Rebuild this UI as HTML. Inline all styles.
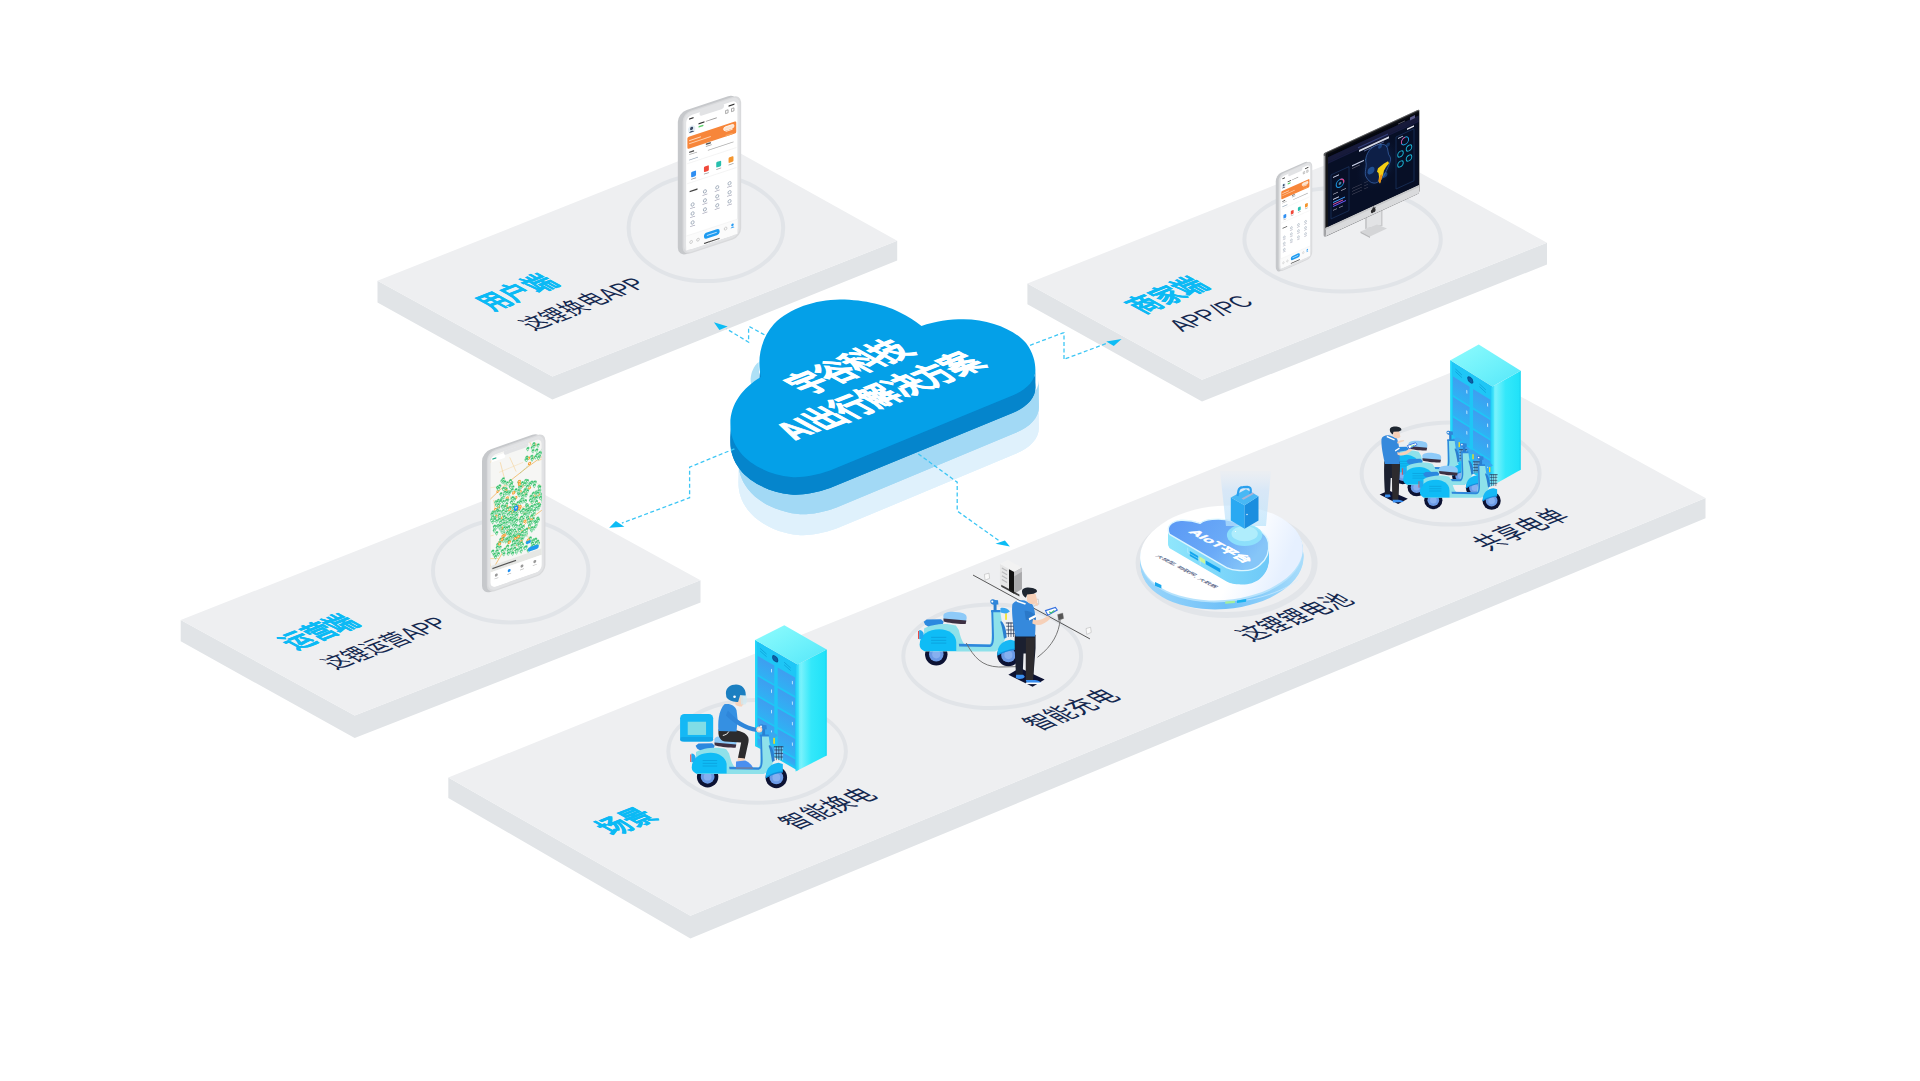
<!DOCTYPE html>
<html lang="zh-CN">
<head>
<meta charset="utf-8">
<style>
html,body{margin:0;padding:0;background:#fff;width:1920px;height:1081px;overflow:hidden;}
svg{display:block;}
text{font-family:"Liberation Sans",sans-serif;}
</style>
</head>
<body>
<svg width="1920" height="1081" viewBox="0 0 1920 1081">
<defs>
<path id="cloud" d="M730.4,424.6 C730,405 742,388 761,377 C757,360 760,340 774,324 C790,308 815,300 840,299.6 C865,299.6 888,306 900,312.5 C908,316 915,321 921.5,326 C935,321 950,319.2 963.6,319.2 C990,319.2 1015,330 1026,343 C1033,352 1035.4,362 1035.4,370 C1035.4,381 1026,390 1012.5,395.6 L830,470.6 C815,476 800,478 791,477 C770,475 750,465 740,452 C733,443 730.4,434 730.4,424.6 Z"/>
<g id="phoneBody">
<rect x="-8.5" y="-6.5" width="60" height="144" rx="9" fill="#c6c8cb"/>
<rect x="-3.6" y="-4.6" width="59.4" height="142.8" rx="8.5" fill="#d9dadc"/>
<rect x="-2.2" y="-3.2" width="56.4" height="140" rx="7.5" fill="#e2e3e5"/>
</g>
<g id="appScreen">
<rect x="0" y="0" width="52" height="134" rx="6" fill="#fff"/>
<rect x="13.5" y="-1" width="25" height="5.2" rx="2.6" fill="#e2e3e5"/>
<rect x="3" y="2.8" width="4.5" height="1.2" fill="#333"/>
<rect x="43" y="2.8" width="6" height="1.2" fill="#333"/>
<rect x="40" y="7" width="2.5" height="3" fill="none" stroke="#666" stroke-width="0.5"/>
<rect x="46" y="7" width="2.5" height="3" fill="none" stroke="#666" stroke-width="0.5"/>
<circle cx="5.5" cy="14.5" r="3.8" fill="#e3eef6"/>
<circle cx="5.5" cy="13.6" r="1.6" fill="#3b4a66"/>
<path d="M2.6,17.5 Q5.5,14.8 8.4,17.5 Z" fill="#3b4a66"/>
<rect x="12.5" y="10.6" width="6" height="1.4" fill="#333"/>
<rect x="20" y="10.8" width="11" height="0.9" fill="#999"/>
<rect x="12.5" y="13.6" width="5" height="1.6" rx="0.5" fill="#5ad06a"/>
<rect x="1.2" y="21" width="49.6" height="12" rx="1.4" fill="#f7863a"/>
<rect x="38" y="23.2" width="10.5" height="3.6" rx="1.8" fill="#fbe3cf" stroke="#fff" stroke-width="0.7"/>
<rect x="3" y="24.5" width="12" height="1.1" fill="#ffd9bd"/>
<rect x="3" y="27.6" width="22" height="0.9" fill="#ffd0ad"/>
<rect x="40" y="27.4" width="7" height="1.1" fill="#ffe3cc"/>
<rect x="3" y="36" width="5" height="1.4" fill="#555"/>
<rect x="3" y="38.6" width="8" height="0.8" fill="#aaa"/>
<rect x="20" y="33.5" width="5" height="1.4" fill="#555"/>
<rect x="20" y="36" width="6" height="0.8" fill="#aaa"/>
<rect x="40" y="31.5" width="7" height="1.3" fill="#f7a35c"/>
<rect x="22" y="40.5" width="26" height="0.8" fill="#aaa"/>
<rect x="3" y="44" width="9" height="0.9" fill="#9ab"/>
<line x1="1" y1="47.5" x2="51" y2="47.5" stroke="#eee" stroke-width="0.6"/>
<rect x="43" y="55" width="5" height="5.5" rx="1" fill="#f5962e"/>
<rect x="30.5" y="55.5" width="5" height="5.5" rx="1" fill="#27bfae"/>
<rect x="18" y="56" width="5" height="5.5" rx="1" fill="#f0483a"/>
<rect x="5" y="57" width="5" height="5.5" rx="1" fill="#2f8ff2"/>
<rect x="43" y="62" width="5" height="0.8" fill="#999"/>
<rect x="30.5" y="62.5" width="5" height="0.8" fill="#999"/>
<rect x="18" y="63" width="5" height="0.8" fill="#999"/>
<rect x="5" y="64" width="5" height="0.8" fill="#999"/>
<line x1="1" y1="67.5" x2="51" y2="67.5" stroke="#eee" stroke-width="0.6"/>
<rect x="3.5" y="75.5" width="8" height="1.3" fill="#444"/>
<circle cx="19" cy="81" r="1.6" fill="none" stroke="#7b8ba0" stroke-width="0.6"/><rect x="16.5" y="84" width="5" height="0.7" fill="#aab"/>
<circle cx="31.5" cy="81" r="1.6" fill="none" stroke="#7b8ba0" stroke-width="0.6"/><rect x="29.0" y="84" width="5" height="0.7" fill="#aab"/>
<circle cx="44" cy="81" r="1.6" fill="none" stroke="#7b8ba0" stroke-width="0.6"/><rect x="41.5" y="84" width="5" height="0.7" fill="#aab"/>
<circle cx="6.5" cy="90" r="1.6" fill="none" stroke="#7b8ba0" stroke-width="0.6"/><rect x="4.0" y="93.0" width="5" height="0.7" fill="#aab"/>
<circle cx="19" cy="90" r="1.6" fill="none" stroke="#7b8ba0" stroke-width="0.6"/><rect x="16.5" y="93.0" width="5" height="0.7" fill="#aab"/>
<circle cx="31.5" cy="90" r="1.6" fill="none" stroke="#7b8ba0" stroke-width="0.6"/><rect x="29.0" y="93.0" width="5" height="0.7" fill="#aab"/>
<circle cx="44" cy="90" r="1.6" fill="none" stroke="#7b8ba0" stroke-width="0.6"/><rect x="41.5" y="93.0" width="5" height="0.7" fill="#aab"/>
<circle cx="6.5" cy="99" r="1.6" fill="none" stroke="#7b8ba0" stroke-width="0.6"/><rect x="4.0" y="102.0" width="5" height="0.7" fill="#aab"/>
<circle cx="19" cy="99" r="1.6" fill="none" stroke="#7b8ba0" stroke-width="0.6"/><rect x="16.5" y="102.0" width="5" height="0.7" fill="#aab"/>
<circle cx="31.5" cy="99" r="1.6" fill="none" stroke="#7b8ba0" stroke-width="0.6"/><rect x="29.0" y="102.0" width="5" height="0.7" fill="#aab"/>
<circle cx="44" cy="99" r="1.6" fill="none" stroke="#7b8ba0" stroke-width="0.6"/><rect x="41.5" y="102.0" width="5" height="0.7" fill="#aab"/>
<circle cx="6.5" cy="108" r="1.6" fill="none" stroke="#7b8ba0" stroke-width="0.6"/><rect x="4.0" y="111.0" width="5" height="0.7" fill="#aab"/>
<rect x="0" y="119.5" width="52" height="14.5" fill="#fbfbfb"/>
<line x1="0" y1="119.5" x2="52" y2="119.5" stroke="#eee" stroke-width="0.5"/>
<rect x="18" y="122.8" width="16" height="6" rx="3" fill="#1e9bf0"/>
<rect x="21" y="125.3" width="10" height="1" fill="#bfe3ff"/>
<circle cx="5" cy="127" r="1.4" fill="none" stroke="#aaa" stroke-width="0.5"/>
<circle cx="12" cy="127" r="1.4" fill="none" stroke="#aaa" stroke-width="0.5"/>
<circle cx="40" cy="125" r="1.4" fill="none" stroke="#aaa" stroke-width="0.5"/>
<circle cx="47" cy="123.5" r="1.3" fill="#2a9df4"/>
<path d="M45,126.5 Q47,124 49,126.5 Z" fill="#2a9df4"/>
<rect x="18" y="132.2" width="16" height="1.1" rx="0.5" fill="#222" stroke="#fff" stroke-width="0.3" stroke-dasharray="1.6 0.6"/>
</g>
<g id="mapScreen">
<clipPath id="scrClip"><rect x="0" y="0" width="52" height="134" rx="6"/></clipPath>
<g clip-path="url(#scrClip)">
<rect x="0" y="0" width="52" height="134" fill="#f6f6f4"/>
<line x1="23.0" y1="64.4" x2="44.3" y2="62.3" stroke="#f6d49c" stroke-width="0.8"/>
<line x1="48.0" y1="21.8" x2="63.2" y2="20.4" stroke="#f6d49c" stroke-width="0.8"/>
<line x1="44.2" y1="10.8" x2="34.3" y2="-13.7" stroke="#f6d49c" stroke-width="0.8"/>
<line x1="34.3" y1="68.5" x2="29.1" y2="65.7" stroke="#f6d49c" stroke-width="0.8"/>
<line x1="33.2" y1="18.1" x2="8.9" y2="19.8" stroke="#f6d49c" stroke-width="0.4"/>
<line x1="-2.8" y1="101.1" x2="2.2" y2="117.8" stroke="#f6d49c" stroke-width="0.6"/>
<line x1="22.3" y1="96.9" x2="23.3" y2="105.3" stroke="#f6d49c" stroke-width="0.6"/>
<line x1="-4.7" y1="9.8" x2="3.0" y2="4.2" stroke="#f6d49c" stroke-width="0.8"/>
<line x1="56.7" y1="96.6" x2="67.1" y2="85.5" stroke="#f6d49c" stroke-width="0.4"/>
<line x1="26.8" y1="3.4" x2="30.0" y2="-20.1" stroke="#f6d49c" stroke-width="0.4"/>
<line x1="47.5" y1="44.4" x2="70.4" y2="65.3" stroke="#f6d49c" stroke-width="0.4"/>
<line x1="8.2" y1="106.6" x2="-14.1" y2="99.1" stroke="#f6d49c" stroke-width="0.8"/>
<line x1="19.6" y1="8.4" x2="26.1" y2="25.1" stroke="#f6d49c" stroke-width="0.6"/>
<line x1="15.9" y1="35.8" x2="-8.4" y2="30.4" stroke="#f6d49c" stroke-width="0.4"/>
<line x1="3.3" y1="81.3" x2="-21.1" y2="79.2" stroke="#f6d49c" stroke-width="0.6"/>
<line x1="6.0" y1="64.3" x2="3.4" y2="45.8" stroke="#f6d49c" stroke-width="0.8"/>
<path d="M-2,45 Q20,30 55,18" stroke="#f1b968" stroke-width="0.8" fill="none"/>
<path d="M5,112 Q25,80 55,72" stroke="#f1b968" stroke-width="0.8" fill="none"/>
<path d="M10,10 Q20,60 45,110" stroke="#f6cf92" stroke-width="0.6" fill="none"/>
<path d="M30,28 Q45,20 55,8" stroke="#6ccf8f" stroke-width="0.4" stroke-dasharray="1 0.6" fill="none"/>
<circle cx="30.1" cy="46.7" r="1.6" fill="#f59b2c"/><circle cx="30.1" cy="46.7" r="0.7" fill="#fde3c4"/>
<path d="M15.4,80.4 l-1.3,-1.9 a1.65,1.65 0 1 1 2.6,0 z" fill="#34c06a" stroke="#f2fbf5" stroke-width="0.3"/><circle cx="15.4" cy="78.4" r="0.8" fill="#dff6e7"/>
<path d="M28.6,67.8 l-1.3,-1.9 a1.65,1.65 0 1 1 2.6,0 z" fill="#34c06a" stroke="#f2fbf5" stroke-width="0.3"/><circle cx="28.6" cy="65.8" r="0.8" fill="#dff6e7"/>
<path d="M45.5,45.5 l-1.3,-1.9 a1.65,1.65 0 1 1 2.6,0 z" fill="#34c06a" stroke="#f2fbf5" stroke-width="0.3"/><circle cx="45.5" cy="43.5" r="0.8" fill="#dff6e7"/>
<path d="M5.5,51.3 l-1.3,-1.9 a1.65,1.65 0 1 1 2.6,0 z" fill="#34c06a" stroke="#f2fbf5" stroke-width="0.3"/><circle cx="5.5" cy="49.3" r="0.8" fill="#dff6e7"/>
<path d="M39.6,69.4 l-1.3,-1.9 a1.65,1.65 0 1 1 2.6,0 z" fill="#34c06a" stroke="#f2fbf5" stroke-width="0.3"/><circle cx="39.6" cy="67.4" r="0.8" fill="#dff6e7"/>
<circle cx="48.9" cy="65.4" r="1.6" fill="#f59b2c"/><circle cx="48.9" cy="65.4" r="0.7" fill="#fde3c4"/>
<path d="M23.1,64.9 l-1.3,-1.9 a1.65,1.65 0 1 1 2.6,0 z" fill="#34c06a" stroke="#f2fbf5" stroke-width="0.3"/><circle cx="23.1" cy="62.9" r="0.8" fill="#dff6e7"/>
<path d="M38.9,83.7 l-1.3,-1.9 a1.65,1.65 0 1 1 2.6,0 z" fill="#34c06a" stroke="#f2fbf5" stroke-width="0.3"/><circle cx="38.9" cy="81.7" r="0.8" fill="#dff6e7"/>
<path d="M49.1,69.2 l-1.3,-1.9 a1.65,1.65 0 1 1 2.6,0 z" fill="#34c06a" stroke="#f2fbf5" stroke-width="0.3"/><circle cx="49.1" cy="67.2" r="0.8" fill="#dff6e7"/>
<path d="M36.1,51.5 l-1.3,-1.9 a1.65,1.65 0 1 1 2.6,0 z" fill="#34c06a" stroke="#f2fbf5" stroke-width="0.3"/><circle cx="36.1" cy="49.5" r="0.8" fill="#dff6e7"/>
<path d="M39.0,74.0 l-1.3,-1.9 a1.65,1.65 0 1 1 2.6,0 z" fill="#34c06a" stroke="#f2fbf5" stroke-width="0.3"/><circle cx="39.0" cy="72.0" r="0.8" fill="#dff6e7"/>
<path d="M25.8,65.0 l-1.3,-1.9 a1.65,1.65 0 1 1 2.6,0 z" fill="#34c06a" stroke="#f2fbf5" stroke-width="0.3"/><circle cx="25.8" cy="63.0" r="0.8" fill="#dff6e7"/>
<path d="M13.6,85.2 l-1.3,-1.9 a1.65,1.65 0 1 1 2.6,0 z" fill="#34c06a" stroke="#f2fbf5" stroke-width="0.3"/><circle cx="13.6" cy="83.2" r="0.8" fill="#dff6e7"/>
<path d="M42.4,84.3 l-1.3,-1.9 a1.65,1.65 0 1 1 2.6,0 z" fill="#34c06a" stroke="#f2fbf5" stroke-width="0.3"/><circle cx="42.4" cy="82.3" r="0.8" fill="#dff6e7"/>
<path d="M32.9,58.2 l-1.3,-1.9 a1.65,1.65 0 1 1 2.6,0 z" fill="#34c06a" stroke="#f2fbf5" stroke-width="0.3"/><circle cx="32.9" cy="56.2" r="0.8" fill="#dff6e7"/>
<path d="M11.9,83.4 l-1.3,-1.9 a1.65,1.65 0 1 1 2.6,0 z" fill="#34c06a" stroke="#f2fbf5" stroke-width="0.3"/><circle cx="11.9" cy="81.4" r="0.8" fill="#dff6e7"/>
<path d="M23.2,81.1 l-1.3,-1.9 a1.65,1.65 0 1 1 2.6,0 z" fill="#34c06a" stroke="#f2fbf5" stroke-width="0.3"/><circle cx="23.2" cy="79.1" r="0.8" fill="#dff6e7"/>
<circle cx="10.3" cy="49.7" r="1.6" fill="#f59b2c"/><circle cx="10.3" cy="49.7" r="0.7" fill="#fde3c4"/>
<circle cx="39.6" cy="86.0" r="1.6" fill="#f59b2c"/><circle cx="39.6" cy="86.0" r="0.7" fill="#fde3c4"/>
<path d="M6.9,59.5 l-1.3,-1.9 a1.65,1.65 0 1 1 2.6,0 z" fill="#34c06a" stroke="#f2fbf5" stroke-width="0.3"/><circle cx="6.9" cy="57.5" r="0.8" fill="#dff6e7"/>
<path d="M13.7,81.3 l-1.3,-1.9 a1.65,1.65 0 1 1 2.6,0 z" fill="#34c06a" stroke="#f2fbf5" stroke-width="0.3"/><circle cx="13.7" cy="79.3" r="0.8" fill="#dff6e7"/>
<path d="M33.2,70.9 l-1.3,-1.9 a1.65,1.65 0 1 1 2.6,0 z" fill="#34c06a" stroke="#f2fbf5" stroke-width="0.3"/><circle cx="33.2" cy="68.9" r="0.8" fill="#dff6e7"/>
<path d="M43.0,81.4 l-1.3,-1.9 a1.65,1.65 0 1 1 2.6,0 z" fill="#34c06a" stroke="#f2fbf5" stroke-width="0.3"/><circle cx="43.0" cy="79.4" r="0.8" fill="#dff6e7"/>
<circle cx="27.2" cy="91.8" r="1.6" fill="#f59b2c"/><circle cx="27.2" cy="91.8" r="0.7" fill="#fde3c4"/>
<path d="M14.4,80.1 l-1.3,-1.9 a1.65,1.65 0 1 1 2.6,0 z" fill="#34c06a" stroke="#f2fbf5" stroke-width="0.3"/><circle cx="14.4" cy="78.1" r="0.8" fill="#dff6e7"/>
<path d="M43.6,56.0 l-1.3,-1.9 a1.65,1.65 0 1 1 2.6,0 z" fill="#34c06a" stroke="#f2fbf5" stroke-width="0.3"/><circle cx="43.6" cy="54.0" r="0.8" fill="#dff6e7"/>
<path d="M2.2,64.2 l-1.3,-1.9 a1.65,1.65 0 1 1 2.6,0 z" fill="#34c06a" stroke="#f2fbf5" stroke-width="0.3"/><circle cx="2.2" cy="62.2" r="0.8" fill="#dff6e7"/>
<path d="M37.5,66.3 l-1.3,-1.9 a1.65,1.65 0 1 1 2.6,0 z" fill="#34c06a" stroke="#f2fbf5" stroke-width="0.3"/><circle cx="37.5" cy="64.3" r="0.8" fill="#dff6e7"/>
<path d="M6.4,70.9 l-1.3,-1.9 a1.65,1.65 0 1 1 2.6,0 z" fill="#34c06a" stroke="#f2fbf5" stroke-width="0.3"/><circle cx="6.4" cy="68.9" r="0.8" fill="#dff6e7"/>
<path d="M22.5,62.4 l-1.3,-1.9 a1.65,1.65 0 1 1 2.6,0 z" fill="#34c06a" stroke="#f2fbf5" stroke-width="0.3"/><circle cx="22.5" cy="60.4" r="0.8" fill="#dff6e7"/>
<path d="M34.0,95.7 l-1.3,-1.9 a1.65,1.65 0 1 1 2.6,0 z" fill="#34c06a" stroke="#f2fbf5" stroke-width="0.3"/><circle cx="34.0" cy="93.7" r="0.8" fill="#dff6e7"/>
<path d="M28.0,59.9 l-1.3,-1.9 a1.65,1.65 0 1 1 2.6,0 z" fill="#34c06a" stroke="#f2fbf5" stroke-width="0.3"/><circle cx="28.0" cy="57.9" r="0.8" fill="#dff6e7"/>
<path d="M16.6,75.7 l-1.3,-1.9 a1.65,1.65 0 1 1 2.6,0 z" fill="#34c06a" stroke="#f2fbf5" stroke-width="0.3"/><circle cx="16.6" cy="73.7" r="0.8" fill="#dff6e7"/>
<path d="M41.7,72.4 l-1.3,-1.9 a1.65,1.65 0 1 1 2.6,0 z" fill="#34c06a" stroke="#f2fbf5" stroke-width="0.3"/><circle cx="41.7" cy="70.4" r="0.8" fill="#dff6e7"/>
<path d="M1.9,62.1 l-1.3,-1.9 a1.65,1.65 0 1 1 2.6,0 z" fill="#34c06a" stroke="#f2fbf5" stroke-width="0.3"/><circle cx="1.9" cy="60.1" r="0.8" fill="#dff6e7"/>
<path d="M36.4,73.9 l-1.3,-1.9 a1.65,1.65 0 1 1 2.6,0 z" fill="#34c06a" stroke="#f2fbf5" stroke-width="0.3"/><circle cx="36.4" cy="71.9" r="0.8" fill="#dff6e7"/>
<path d="M13.2,73.1 l-1.3,-1.9 a1.65,1.65 0 1 1 2.6,0 z" fill="#34c06a" stroke="#f2fbf5" stroke-width="0.3"/><circle cx="13.2" cy="71.1" r="0.8" fill="#dff6e7"/>
<path d="M25.9,46.3 l-1.3,-1.9 a1.65,1.65 0 1 1 2.6,0 z" fill="#34c06a" stroke="#f2fbf5" stroke-width="0.3"/><circle cx="25.9" cy="44.3" r="0.8" fill="#dff6e7"/>
<path d="M47.6,60.2 l-1.3,-1.9 a1.65,1.65 0 1 1 2.6,0 z" fill="#34c06a" stroke="#f2fbf5" stroke-width="0.3"/><circle cx="47.6" cy="58.2" r="0.8" fill="#dff6e7"/>
<circle cx="44.5" cy="56.5" r="1.6" fill="#f59b2c"/><circle cx="44.5" cy="56.5" r="0.7" fill="#fde3c4"/>
<path d="M18.6,80.9 l-1.3,-1.9 a1.65,1.65 0 1 1 2.6,0 z" fill="#34c06a" stroke="#f2fbf5" stroke-width="0.3"/><circle cx="18.6" cy="78.9" r="0.8" fill="#dff6e7"/>
<path d="M48.4,72.7 l-1.3,-1.9 a1.65,1.65 0 1 1 2.6,0 z" fill="#34c06a" stroke="#f2fbf5" stroke-width="0.3"/><circle cx="48.4" cy="70.7" r="0.8" fill="#dff6e7"/>
<path d="M34.2,71.3 l-1.3,-1.9 a1.65,1.65 0 1 1 2.6,0 z" fill="#34c06a" stroke="#f2fbf5" stroke-width="0.3"/><circle cx="34.2" cy="69.3" r="0.8" fill="#dff6e7"/>
<path d="M24.3,78.1 l-1.3,-1.9 a1.65,1.65 0 1 1 2.6,0 z" fill="#34c06a" stroke="#f2fbf5" stroke-width="0.3"/><circle cx="24.3" cy="76.1" r="0.8" fill="#dff6e7"/>
<path d="M44.3,76.7 l-1.3,-1.9 a1.65,1.65 0 1 1 2.6,0 z" fill="#34c06a" stroke="#f2fbf5" stroke-width="0.3"/><circle cx="44.3" cy="74.7" r="0.8" fill="#dff6e7"/>
<path d="M24.2,72.5 l-1.3,-1.9 a1.65,1.65 0 1 1 2.6,0 z" fill="#34c06a" stroke="#f2fbf5" stroke-width="0.3"/><circle cx="24.2" cy="70.5" r="0.8" fill="#dff6e7"/>
<path d="M49.3,57.8 l-1.3,-1.9 a1.65,1.65 0 1 1 2.6,0 z" fill="#34c06a" stroke="#f2fbf5" stroke-width="0.3"/><circle cx="49.3" cy="55.8" r="0.8" fill="#dff6e7"/>
<path d="M46.2,89.2 l-1.3,-1.9 a1.65,1.65 0 1 1 2.6,0 z" fill="#34c06a" stroke="#f2fbf5" stroke-width="0.3"/><circle cx="46.2" cy="87.2" r="0.8" fill="#dff6e7"/>
<path d="M23.7,75.1 l-1.3,-1.9 a1.65,1.65 0 1 1 2.6,0 z" fill="#34c06a" stroke="#f2fbf5" stroke-width="0.3"/><circle cx="23.7" cy="73.1" r="0.8" fill="#dff6e7"/>
<path d="M20.6,69.2 l-1.3,-1.9 a1.65,1.65 0 1 1 2.6,0 z" fill="#34c06a" stroke="#f2fbf5" stroke-width="0.3"/><circle cx="20.6" cy="67.2" r="0.8" fill="#dff6e7"/>
<path d="M44.4,45.0 l-1.3,-1.9 a1.65,1.65 0 1 1 2.6,0 z" fill="#34c06a" stroke="#f2fbf5" stroke-width="0.3"/><circle cx="44.4" cy="43.0" r="0.8" fill="#dff6e7"/>
<path d="M46.7,71.8 l-1.3,-1.9 a1.65,1.65 0 1 1 2.6,0 z" fill="#34c06a" stroke="#f2fbf5" stroke-width="0.3"/><circle cx="46.7" cy="69.8" r="0.8" fill="#dff6e7"/>
<path d="M49.9,70.0 l-1.3,-1.9 a1.65,1.65 0 1 1 2.6,0 z" fill="#34c06a" stroke="#f2fbf5" stroke-width="0.3"/><circle cx="49.9" cy="68.0" r="0.8" fill="#dff6e7"/>
<path d="M25.8,70.1 l-1.3,-1.9 a1.65,1.65 0 1 1 2.6,0 z" fill="#34c06a" stroke="#f2fbf5" stroke-width="0.3"/><circle cx="25.8" cy="68.1" r="0.8" fill="#dff6e7"/>
<circle cx="35.3" cy="70.0" r="1.6" fill="#f59b2c"/><circle cx="35.3" cy="70.0" r="0.7" fill="#fde3c4"/>
<circle cx="38.2" cy="76.1" r="1.6" fill="#f59b2c"/><circle cx="38.2" cy="76.1" r="0.7" fill="#fde3c4"/>
<path d="M14.6,76.5 l-1.3,-1.9 a1.65,1.65 0 1 1 2.6,0 z" fill="#34c06a" stroke="#f2fbf5" stroke-width="0.3"/><circle cx="14.6" cy="74.5" r="0.8" fill="#dff6e7"/>
<circle cx="48.6" cy="56.0" r="1.6" fill="#f59b2c"/><circle cx="48.6" cy="56.0" r="0.7" fill="#fde3c4"/>
<path d="M10.3,73.2 l-1.3,-1.9 a1.65,1.65 0 1 1 2.6,0 z" fill="#34c06a" stroke="#f2fbf5" stroke-width="0.3"/><circle cx="10.3" cy="71.2" r="0.8" fill="#dff6e7"/>
<path d="M9.2,62.3 l-1.3,-1.9 a1.65,1.65 0 1 1 2.6,0 z" fill="#34c06a" stroke="#f2fbf5" stroke-width="0.3"/><circle cx="9.2" cy="60.3" r="0.8" fill="#dff6e7"/>
<path d="M13.0,66.3 l-1.3,-1.9 a1.65,1.65 0 1 1 2.6,0 z" fill="#34c06a" stroke="#f2fbf5" stroke-width="0.3"/><circle cx="13.0" cy="64.3" r="0.8" fill="#dff6e7"/>
<path d="M31.4,70.1 l-1.3,-1.9 a1.65,1.65 0 1 1 2.6,0 z" fill="#34c06a" stroke="#f2fbf5" stroke-width="0.3"/><circle cx="31.4" cy="68.1" r="0.8" fill="#dff6e7"/>
<path d="M36.7,65.1 l-1.3,-1.9 a1.65,1.65 0 1 1 2.6,0 z" fill="#34c06a" stroke="#f2fbf5" stroke-width="0.3"/><circle cx="36.7" cy="63.1" r="0.8" fill="#dff6e7"/>
<circle cx="32.1" cy="42.1" r="1.6" fill="#f59b2c"/><circle cx="32.1" cy="42.1" r="0.7" fill="#fde3c4"/>
<path d="M2.5,70.2 l-1.3,-1.9 a1.65,1.65 0 1 1 2.6,0 z" fill="#34c06a" stroke="#f2fbf5" stroke-width="0.3"/><circle cx="2.5" cy="68.2" r="0.8" fill="#dff6e7"/>
<path d="M21.1,76.2 l-1.3,-1.9 a1.65,1.65 0 1 1 2.6,0 z" fill="#34c06a" stroke="#f2fbf5" stroke-width="0.3"/><circle cx="21.1" cy="74.2" r="0.8" fill="#dff6e7"/>
<path d="M13.2,53.8 l-1.3,-1.9 a1.65,1.65 0 1 1 2.6,0 z" fill="#34c06a" stroke="#f2fbf5" stroke-width="0.3"/><circle cx="13.2" cy="51.8" r="0.8" fill="#dff6e7"/>
<path d="M28.4,50.2 l-1.3,-1.9 a1.65,1.65 0 1 1 2.6,0 z" fill="#34c06a" stroke="#f2fbf5" stroke-width="0.3"/><circle cx="28.4" cy="48.2" r="0.8" fill="#dff6e7"/>
<path d="M45.3,58.8 l-1.3,-1.9 a1.65,1.65 0 1 1 2.6,0 z" fill="#34c06a" stroke="#f2fbf5" stroke-width="0.3"/><circle cx="45.3" cy="56.8" r="0.8" fill="#dff6e7"/>
<path d="M28.9,86.9 l-1.3,-1.9 a1.65,1.65 0 1 1 2.6,0 z" fill="#34c06a" stroke="#f2fbf5" stroke-width="0.3"/><circle cx="28.9" cy="84.9" r="0.8" fill="#dff6e7"/>
<path d="M27.9,91.7 l-1.3,-1.9 a1.65,1.65 0 1 1 2.6,0 z" fill="#34c06a" stroke="#f2fbf5" stroke-width="0.3"/><circle cx="27.9" cy="89.7" r="0.8" fill="#dff6e7"/>
<path d="M35.8,43.2 l-1.3,-1.9 a1.65,1.65 0 1 1 2.6,0 z" fill="#34c06a" stroke="#f2fbf5" stroke-width="0.3"/><circle cx="35.8" cy="41.2" r="0.8" fill="#dff6e7"/>
<path d="M31.8,81.0 l-1.3,-1.9 a1.65,1.65 0 1 1 2.6,0 z" fill="#34c06a" stroke="#f2fbf5" stroke-width="0.3"/><circle cx="31.8" cy="79.0" r="0.8" fill="#dff6e7"/>
<path d="M32.9,96.1 l-1.3,-1.9 a1.65,1.65 0 1 1 2.6,0 z" fill="#34c06a" stroke="#f2fbf5" stroke-width="0.3"/><circle cx="32.9" cy="94.1" r="0.8" fill="#dff6e7"/>
<path d="M30.5,78.5 l-1.3,-1.9 a1.65,1.65 0 1 1 2.6,0 z" fill="#34c06a" stroke="#f2fbf5" stroke-width="0.3"/><circle cx="30.5" cy="76.5" r="0.8" fill="#dff6e7"/>
<path d="M12.9,90.7 l-1.3,-1.9 a1.65,1.65 0 1 1 2.6,0 z" fill="#34c06a" stroke="#f2fbf5" stroke-width="0.3"/><circle cx="12.9" cy="88.7" r="0.8" fill="#dff6e7"/>
<path d="M34.6,69.7 l-1.3,-1.9 a1.65,1.65 0 1 1 2.6,0 z" fill="#34c06a" stroke="#f2fbf5" stroke-width="0.3"/><circle cx="34.6" cy="67.7" r="0.8" fill="#dff6e7"/>
<path d="M52.3,64.5 l-1.3,-1.9 a1.65,1.65 0 1 1 2.6,0 z" fill="#34c06a" stroke="#f2fbf5" stroke-width="0.3"/><circle cx="52.3" cy="62.5" r="0.8" fill="#dff6e7"/>
<path d="M42.1,81.2 l-1.3,-1.9 a1.65,1.65 0 1 1 2.6,0 z" fill="#34c06a" stroke="#f2fbf5" stroke-width="0.3"/><circle cx="42.1" cy="79.2" r="0.8" fill="#dff6e7"/>
<path d="M50.0,55.5 l-1.3,-1.9 a1.65,1.65 0 1 1 2.6,0 z" fill="#34c06a" stroke="#f2fbf5" stroke-width="0.3"/><circle cx="50.0" cy="53.5" r="0.8" fill="#dff6e7"/>
<path d="M13.6,82.4 l-1.3,-1.9 a1.65,1.65 0 1 1 2.6,0 z" fill="#34c06a" stroke="#f2fbf5" stroke-width="0.3"/><circle cx="13.6" cy="80.4" r="0.8" fill="#dff6e7"/>
<path d="M17.3,45.4 l-1.3,-1.9 a1.65,1.65 0 1 1 2.6,0 z" fill="#34c06a" stroke="#f2fbf5" stroke-width="0.3"/><circle cx="17.3" cy="43.4" r="0.8" fill="#dff6e7"/>
<circle cx="39.6" cy="46.1" r="1.6" fill="#f59b2c"/><circle cx="39.6" cy="46.1" r="0.7" fill="#fde3c4"/>
<path d="M17.5,92.5 l-1.3,-1.9 a1.65,1.65 0 1 1 2.6,0 z" fill="#34c06a" stroke="#f2fbf5" stroke-width="0.3"/><circle cx="17.5" cy="90.5" r="0.8" fill="#dff6e7"/>
<path d="M24.3,90.8 l-1.3,-1.9 a1.65,1.65 0 1 1 2.6,0 z" fill="#34c06a" stroke="#f2fbf5" stroke-width="0.3"/><circle cx="24.3" cy="88.8" r="0.8" fill="#dff6e7"/>
<path d="M21.8,53.5 l-1.3,-1.9 a1.65,1.65 0 1 1 2.6,0 z" fill="#34c06a" stroke="#f2fbf5" stroke-width="0.3"/><circle cx="21.8" cy="51.5" r="0.8" fill="#dff6e7"/>
<circle cx="14.8" cy="85.2" r="1.6" fill="#f59b2c"/><circle cx="14.8" cy="85.2" r="0.7" fill="#fde3c4"/>
<path d="M8.1,58.4 l-1.3,-1.9 a1.65,1.65 0 1 1 2.6,0 z" fill="#34c06a" stroke="#f2fbf5" stroke-width="0.3"/><circle cx="8.1" cy="56.4" r="0.8" fill="#dff6e7"/>
<path d="M18.3,75.1 l-1.3,-1.9 a1.65,1.65 0 1 1 2.6,0 z" fill="#34c06a" stroke="#f2fbf5" stroke-width="0.3"/><circle cx="18.3" cy="73.1" r="0.8" fill="#dff6e7"/>
<path d="M29.7,52.4 l-1.3,-1.9 a1.65,1.65 0 1 1 2.6,0 z" fill="#34c06a" stroke="#f2fbf5" stroke-width="0.3"/><circle cx="29.7" cy="50.4" r="0.8" fill="#dff6e7"/>
<path d="M32.4,41.5 l-1.3,-1.9 a1.65,1.65 0 1 1 2.6,0 z" fill="#34c06a" stroke="#f2fbf5" stroke-width="0.3"/><circle cx="32.4" cy="39.5" r="0.8" fill="#dff6e7"/>
<path d="M37.1,66.8 l-1.3,-1.9 a1.65,1.65 0 1 1 2.6,0 z" fill="#34c06a" stroke="#f2fbf5" stroke-width="0.3"/><circle cx="37.1" cy="64.8" r="0.8" fill="#dff6e7"/>
<path d="M43.3,81.7 l-1.3,-1.9 a1.65,1.65 0 1 1 2.6,0 z" fill="#34c06a" stroke="#f2fbf5" stroke-width="0.3"/><circle cx="43.3" cy="79.7" r="0.8" fill="#dff6e7"/>
<path d="M17.5,53.8 l-1.3,-1.9 a1.65,1.65 0 1 1 2.6,0 z" fill="#34c06a" stroke="#f2fbf5" stroke-width="0.3"/><circle cx="17.5" cy="51.8" r="0.8" fill="#dff6e7"/>
<path d="M38.6,74.1 l-1.3,-1.9 a1.65,1.65 0 1 1 2.6,0 z" fill="#34c06a" stroke="#f2fbf5" stroke-width="0.3"/><circle cx="38.6" cy="72.1" r="0.8" fill="#dff6e7"/>
<path d="M34.1,54.2 l-1.3,-1.9 a1.65,1.65 0 1 1 2.6,0 z" fill="#34c06a" stroke="#f2fbf5" stroke-width="0.3"/><circle cx="34.1" cy="52.2" r="0.8" fill="#dff6e7"/>
<path d="M22.8,42.4 l-1.3,-1.9 a1.65,1.65 0 1 1 2.6,0 z" fill="#34c06a" stroke="#f2fbf5" stroke-width="0.3"/><circle cx="22.8" cy="40.4" r="0.8" fill="#dff6e7"/>
<path d="M23.0,66.6 l-1.3,-1.9 a1.65,1.65 0 1 1 2.6,0 z" fill="#34c06a" stroke="#f2fbf5" stroke-width="0.3"/><circle cx="23.0" cy="64.6" r="0.8" fill="#dff6e7"/>
<path d="M31.5,94.0 l-1.3,-1.9 a1.65,1.65 0 1 1 2.6,0 z" fill="#34c06a" stroke="#f2fbf5" stroke-width="0.3"/><circle cx="31.5" cy="92.0" r="0.8" fill="#dff6e7"/>
<path d="M2.5,60.6 l-1.3,-1.9 a1.65,1.65 0 1 1 2.6,0 z" fill="#34c06a" stroke="#f2fbf5" stroke-width="0.3"/><circle cx="2.5" cy="58.6" r="0.8" fill="#dff6e7"/>
<path d="M1.0,67.7 l-1.3,-1.9 a1.65,1.65 0 1 1 2.6,0 z" fill="#34c06a" stroke="#f2fbf5" stroke-width="0.3"/><circle cx="1.0" cy="65.7" r="0.8" fill="#dff6e7"/>
<path d="M41.4,91.1 l-1.3,-1.9 a1.65,1.65 0 1 1 2.6,0 z" fill="#34c06a" stroke="#f2fbf5" stroke-width="0.3"/><circle cx="41.4" cy="89.1" r="0.8" fill="#dff6e7"/>
<path d="M24.0,54.3 l-1.3,-1.9 a1.65,1.65 0 1 1 2.6,0 z" fill="#34c06a" stroke="#f2fbf5" stroke-width="0.3"/><circle cx="24.0" cy="52.3" r="0.8" fill="#dff6e7"/>
<path d="M6.4,82.9 l-1.3,-1.9 a1.65,1.65 0 1 1 2.6,0 z" fill="#34c06a" stroke="#f2fbf5" stroke-width="0.3"/><circle cx="6.4" cy="80.9" r="0.8" fill="#dff6e7"/>
<path d="M14.2,80.8 l-1.3,-1.9 a1.65,1.65 0 1 1 2.6,0 z" fill="#34c06a" stroke="#f2fbf5" stroke-width="0.3"/><circle cx="14.2" cy="78.8" r="0.8" fill="#dff6e7"/>
<path d="M36.3,94.5 l-1.3,-1.9 a1.65,1.65 0 1 1 2.6,0 z" fill="#34c06a" stroke="#f2fbf5" stroke-width="0.3"/><circle cx="36.3" cy="92.5" r="0.8" fill="#dff6e7"/>
<path d="M48.0,68.7 l-1.3,-1.9 a1.65,1.65 0 1 1 2.6,0 z" fill="#34c06a" stroke="#f2fbf5" stroke-width="0.3"/><circle cx="48.0" cy="66.7" r="0.8" fill="#dff6e7"/>
<circle cx="17.0" cy="48.6" r="1.6" fill="#f59b2c"/><circle cx="17.0" cy="48.6" r="0.7" fill="#fde3c4"/>
<path d="M34.7,51.9 l-1.3,-1.9 a1.65,1.65 0 1 1 2.6,0 z" fill="#34c06a" stroke="#f2fbf5" stroke-width="0.3"/><circle cx="34.7" cy="49.9" r="0.8" fill="#dff6e7"/>
<path d="M15.6,94.2 l-1.3,-1.9 a1.65,1.65 0 1 1 2.6,0 z" fill="#34c06a" stroke="#f2fbf5" stroke-width="0.3"/><circle cx="15.6" cy="92.2" r="0.8" fill="#dff6e7"/>
<path d="M48.4,84.1 l-1.3,-1.9 a1.65,1.65 0 1 1 2.6,0 z" fill="#34c06a" stroke="#f2fbf5" stroke-width="0.3"/><circle cx="48.4" cy="82.1" r="0.8" fill="#dff6e7"/>
<path d="M35.8,40.3 l-1.3,-1.9 a1.65,1.65 0 1 1 2.6,0 z" fill="#34c06a" stroke="#f2fbf5" stroke-width="0.3"/><circle cx="35.8" cy="38.3" r="0.8" fill="#dff6e7"/>
<path d="M37.5,78.1 l-1.3,-1.9 a1.65,1.65 0 1 1 2.6,0 z" fill="#34c06a" stroke="#f2fbf5" stroke-width="0.3"/><circle cx="37.5" cy="76.1" r="0.8" fill="#dff6e7"/>
<path d="M21.8,73.5 l-1.3,-1.9 a1.65,1.65 0 1 1 2.6,0 z" fill="#34c06a" stroke="#f2fbf5" stroke-width="0.3"/><circle cx="21.8" cy="71.5" r="0.8" fill="#dff6e7"/>
<path d="M18.2,95.4 l-1.3,-1.9 a1.65,1.65 0 1 1 2.6,0 z" fill="#34c06a" stroke="#f2fbf5" stroke-width="0.3"/><circle cx="18.2" cy="93.4" r="0.8" fill="#dff6e7"/>
<path d="M40.6,61.5 l-1.3,-1.9 a1.65,1.65 0 1 1 2.6,0 z" fill="#34c06a" stroke="#f2fbf5" stroke-width="0.3"/><circle cx="40.6" cy="59.5" r="0.8" fill="#dff6e7"/>
<circle cx="27.3" cy="62.3" r="1.6" fill="#f59b2c"/><circle cx="27.3" cy="62.3" r="0.7" fill="#fde3c4"/>
<path d="M22.8,67.6 l-1.3,-1.9 a1.65,1.65 0 1 1 2.6,0 z" fill="#34c06a" stroke="#f2fbf5" stroke-width="0.3"/><circle cx="22.8" cy="65.6" r="0.8" fill="#dff6e7"/>
<path d="M18.4,84.1 l-1.3,-1.9 a1.65,1.65 0 1 1 2.6,0 z" fill="#34c06a" stroke="#f2fbf5" stroke-width="0.3"/><circle cx="18.4" cy="82.1" r="0.8" fill="#dff6e7"/>
<path d="M23.9,96.2 l-1.3,-1.9 a1.65,1.65 0 1 1 2.6,0 z" fill="#34c06a" stroke="#f2fbf5" stroke-width="0.3"/><circle cx="23.9" cy="94.2" r="0.8" fill="#dff6e7"/>
<path d="M33.0,95.2 l-1.3,-1.9 a1.65,1.65 0 1 1 2.6,0 z" fill="#34c06a" stroke="#f2fbf5" stroke-width="0.3"/><circle cx="33.0" cy="93.2" r="0.8" fill="#dff6e7"/>
<path d="M23.4,70.2 l-1.3,-1.9 a1.65,1.65 0 1 1 2.6,0 z" fill="#34c06a" stroke="#f2fbf5" stroke-width="0.3"/><circle cx="23.4" cy="68.2" r="0.8" fill="#dff6e7"/>
<path d="M6.1,62.7 l-1.3,-1.9 a1.65,1.65 0 1 1 2.6,0 z" fill="#34c06a" stroke="#f2fbf5" stroke-width="0.3"/><circle cx="6.1" cy="60.7" r="0.8" fill="#dff6e7"/>
<path d="M44.0,57.4 l-1.3,-1.9 a1.65,1.65 0 1 1 2.6,0 z" fill="#34c06a" stroke="#f2fbf5" stroke-width="0.3"/><circle cx="44.0" cy="55.4" r="0.8" fill="#dff6e7"/>
<path d="M53.6,67.8 l-1.3,-1.9 a1.65,1.65 0 1 1 2.6,0 z" fill="#34c06a" stroke="#f2fbf5" stroke-width="0.3"/><circle cx="53.6" cy="65.8" r="0.8" fill="#dff6e7"/>
<circle cx="5.9" cy="63.2" r="1.6" fill="#f59b2c"/><circle cx="5.9" cy="63.2" r="0.7" fill="#fde3c4"/>
<path d="M4.4,78.1 l-1.3,-1.9 a1.65,1.65 0 1 1 2.6,0 z" fill="#34c06a" stroke="#f2fbf5" stroke-width="0.3"/><circle cx="4.4" cy="76.1" r="0.8" fill="#dff6e7"/>
<circle cx="8.3" cy="54.1" r="1.6" fill="#f59b2c"/><circle cx="8.3" cy="54.1" r="0.7" fill="#fde3c4"/>
<path d="M28.9,47.9 l-1.3,-1.9 a1.65,1.65 0 1 1 2.6,0 z" fill="#34c06a" stroke="#f2fbf5" stroke-width="0.3"/><circle cx="28.9" cy="45.9" r="0.8" fill="#dff6e7"/>
<circle cx="5.0" cy="56.1" r="1.6" fill="#f59b2c"/><circle cx="5.0" cy="56.1" r="0.7" fill="#fde3c4"/>
<path d="M17.9,63.2 l-1.3,-1.9 a1.65,1.65 0 1 1 2.6,0 z" fill="#34c06a" stroke="#f2fbf5" stroke-width="0.3"/><circle cx="17.9" cy="61.2" r="0.8" fill="#dff6e7"/>
<path d="M2.4,65.3 l-1.3,-1.9 a1.65,1.65 0 1 1 2.6,0 z" fill="#34c06a" stroke="#f2fbf5" stroke-width="0.3"/><circle cx="2.4" cy="63.3" r="0.8" fill="#dff6e7"/>
<path d="M27.1,92.4 l-1.3,-1.9 a1.65,1.65 0 1 1 2.6,0 z" fill="#34c06a" stroke="#f2fbf5" stroke-width="0.3"/><circle cx="27.1" cy="90.4" r="0.8" fill="#dff6e7"/>
<path d="M52.2,60.0 l-1.3,-1.9 a1.65,1.65 0 1 1 2.6,0 z" fill="#34c06a" stroke="#f2fbf5" stroke-width="0.3"/><circle cx="52.2" cy="58.0" r="0.8" fill="#dff6e7"/>
<path d="M16.5,57.3 l-1.3,-1.9 a1.65,1.65 0 1 1 2.6,0 z" fill="#34c06a" stroke="#f2fbf5" stroke-width="0.3"/><circle cx="16.5" cy="55.3" r="0.8" fill="#dff6e7"/>
<path d="M40.6,85.0 l-1.3,-1.9 a1.65,1.65 0 1 1 2.6,0 z" fill="#34c06a" stroke="#f2fbf5" stroke-width="0.3"/><circle cx="40.6" cy="83.0" r="0.8" fill="#dff6e7"/>
<path d="M25.3,88.7 l-1.3,-1.9 a1.65,1.65 0 1 1 2.6,0 z" fill="#34c06a" stroke="#f2fbf5" stroke-width="0.3"/><circle cx="25.3" cy="86.7" r="0.8" fill="#dff6e7"/>
<path d="M20.3,73.2 l-1.3,-1.9 a1.65,1.65 0 1 1 2.6,0 z" fill="#34c06a" stroke="#f2fbf5" stroke-width="0.3"/><circle cx="20.3" cy="71.2" r="0.8" fill="#dff6e7"/>
<path d="M44.6,68.4 l-1.3,-1.9 a1.65,1.65 0 1 1 2.6,0 z" fill="#34c06a" stroke="#f2fbf5" stroke-width="0.3"/><circle cx="44.6" cy="66.4" r="0.8" fill="#dff6e7"/>
<circle cx="22.5" cy="64.5" r="1.6" fill="#f59b2c"/><circle cx="22.5" cy="64.5" r="0.7" fill="#fde3c4"/>
<path d="M45.3,56.8 l-1.3,-1.9 a1.65,1.65 0 1 1 2.6,0 z" fill="#34c06a" stroke="#f2fbf5" stroke-width="0.3"/><circle cx="45.3" cy="54.8" r="0.8" fill="#dff6e7"/>
<path d="M37.4,67.1 l-1.3,-1.9 a1.65,1.65 0 1 1 2.6,0 z" fill="#34c06a" stroke="#f2fbf5" stroke-width="0.3"/><circle cx="37.4" cy="65.1" r="0.8" fill="#dff6e7"/>
<path d="M37.2,74.6 l-1.3,-1.9 a1.65,1.65 0 1 1 2.6,0 z" fill="#34c06a" stroke="#f2fbf5" stroke-width="0.3"/><circle cx="37.2" cy="72.6" r="0.8" fill="#dff6e7"/>
<path d="M44.6,59.2 l-1.3,-1.9 a1.65,1.65 0 1 1 2.6,0 z" fill="#34c06a" stroke="#f2fbf5" stroke-width="0.3"/><circle cx="44.6" cy="57.2" r="0.8" fill="#dff6e7"/>
<path d="M49.2,55.0 l-1.3,-1.9 a1.65,1.65 0 1 1 2.6,0 z" fill="#34c06a" stroke="#f2fbf5" stroke-width="0.3"/><circle cx="49.2" cy="53.0" r="0.8" fill="#dff6e7"/>
<path d="M17.0,76.2 l-1.3,-1.9 a1.65,1.65 0 1 1 2.6,0 z" fill="#34c06a" stroke="#f2fbf5" stroke-width="0.3"/><circle cx="17.0" cy="74.2" r="0.8" fill="#dff6e7"/>
<circle cx="12.3" cy="66.8" r="1.6" fill="#f59b2c"/><circle cx="12.3" cy="66.8" r="0.7" fill="#fde3c4"/>
<path d="M49.2,50.9 l-1.3,-1.9 a1.65,1.65 0 1 1 2.6,0 z" fill="#34c06a" stroke="#f2fbf5" stroke-width="0.3"/><circle cx="49.2" cy="48.9" r="0.8" fill="#dff6e7"/>
<circle cx="45.1" cy="55.5" r="1.6" fill="#f59b2c"/><circle cx="45.1" cy="55.5" r="0.7" fill="#fde3c4"/>
<circle cx="41.6" cy="78.3" r="1.6" fill="#f59b2c"/><circle cx="41.6" cy="78.3" r="0.7" fill="#fde3c4"/>
<path d="M41.5,70.6 l-1.3,-1.9 a1.65,1.65 0 1 1 2.6,0 z" fill="#34c06a" stroke="#f2fbf5" stroke-width="0.3"/><circle cx="41.5" cy="68.6" r="0.8" fill="#dff6e7"/>
<path d="M20.1,39.5 l-1.3,-1.9 a1.65,1.65 0 1 1 2.6,0 z" fill="#34c06a" stroke="#f2fbf5" stroke-width="0.3"/><circle cx="20.1" cy="37.5" r="0.8" fill="#dff6e7"/>
<path d="M38.4,70.4 l-1.3,-1.9 a1.65,1.65 0 1 1 2.6,0 z" fill="#34c06a" stroke="#f2fbf5" stroke-width="0.3"/><circle cx="38.4" cy="68.4" r="0.8" fill="#dff6e7"/>
<path d="M42.4,69.0 l-1.3,-1.9 a1.65,1.65 0 1 1 2.6,0 z" fill="#34c06a" stroke="#f2fbf5" stroke-width="0.3"/><circle cx="42.4" cy="67.0" r="0.8" fill="#dff6e7"/>
<circle cx="25.8" cy="51.4" r="1.6" fill="#f59b2c"/><circle cx="25.8" cy="51.4" r="0.7" fill="#fde3c4"/>
<path d="M8.9,68.0 l-1.3,-1.9 a1.65,1.65 0 1 1 2.6,0 z" fill="#34c06a" stroke="#f2fbf5" stroke-width="0.3"/><circle cx="8.9" cy="66.0" r="0.8" fill="#dff6e7"/>
<path d="M6.3,54.1 l-1.3,-1.9 a1.65,1.65 0 1 1 2.6,0 z" fill="#34c06a" stroke="#f2fbf5" stroke-width="0.3"/><circle cx="6.3" cy="52.1" r="0.8" fill="#dff6e7"/>
<path d="M11.7,50.0 l-1.3,-1.9 a1.65,1.65 0 1 1 2.6,0 z" fill="#34c06a" stroke="#f2fbf5" stroke-width="0.3"/><circle cx="11.7" cy="48.0" r="0.8" fill="#dff6e7"/>
<path d="M20.4,41.0 l-1.3,-1.9 a1.65,1.65 0 1 1 2.6,0 z" fill="#34c06a" stroke="#f2fbf5" stroke-width="0.3"/><circle cx="20.4" cy="39.0" r="0.8" fill="#dff6e7"/>
<path d="M49.3,71.3 l-1.3,-1.9 a1.65,1.65 0 1 1 2.6,0 z" fill="#34c06a" stroke="#f2fbf5" stroke-width="0.3"/><circle cx="49.3" cy="69.3" r="0.8" fill="#dff6e7"/>
<path d="M37.6,46.8 l-1.3,-1.9 a1.65,1.65 0 1 1 2.6,0 z" fill="#34c06a" stroke="#f2fbf5" stroke-width="0.3"/><circle cx="37.6" cy="44.8" r="0.8" fill="#dff6e7"/>
<path d="M3.6,61.2 l-1.3,-1.9 a1.65,1.65 0 1 1 2.6,0 z" fill="#34c06a" stroke="#f2fbf5" stroke-width="0.3"/><circle cx="3.6" cy="59.2" r="0.8" fill="#dff6e7"/>
<path d="M15.7,64.8 l-1.3,-1.9 a1.65,1.65 0 1 1 2.6,0 z" fill="#34c06a" stroke="#f2fbf5" stroke-width="0.3"/><circle cx="15.7" cy="62.8" r="0.8" fill="#dff6e7"/>
<circle cx="32.2" cy="87.6" r="1.6" fill="#f59b2c"/><circle cx="32.2" cy="87.6" r="0.7" fill="#fde3c4"/>
<path d="M19.5,62.1 l-1.3,-1.9 a1.65,1.65 0 1 1 2.6,0 z" fill="#34c06a" stroke="#f2fbf5" stroke-width="0.3"/><circle cx="19.5" cy="60.1" r="0.8" fill="#dff6e7"/>
<path d="M46.4,55.7 l-1.3,-1.9 a1.65,1.65 0 1 1 2.6,0 z" fill="#34c06a" stroke="#f2fbf5" stroke-width="0.3"/><circle cx="46.4" cy="53.7" r="0.8" fill="#dff6e7"/>
<path d="M21.4,78.2 l-1.3,-1.9 a1.65,1.65 0 1 1 2.6,0 z" fill="#34c06a" stroke="#f2fbf5" stroke-width="0.3"/><circle cx="21.4" cy="76.2" r="0.8" fill="#dff6e7"/>
<path d="M7.7,50.7 l-1.3,-1.9 a1.65,1.65 0 1 1 2.6,0 z" fill="#34c06a" stroke="#f2fbf5" stroke-width="0.3"/><circle cx="7.7" cy="48.7" r="0.8" fill="#dff6e7"/>
<path d="M36.1,92.7 l-1.3,-1.9 a1.65,1.65 0 1 1 2.6,0 z" fill="#34c06a" stroke="#f2fbf5" stroke-width="0.3"/><circle cx="36.1" cy="90.7" r="0.8" fill="#dff6e7"/>
<path d="M30.9,76.6 l-1.3,-1.9 a1.65,1.65 0 1 1 2.6,0 z" fill="#34c06a" stroke="#f2fbf5" stroke-width="0.3"/><circle cx="30.9" cy="74.6" r="0.8" fill="#dff6e7"/>
<path d="M35.5,60.8 l-1.3,-1.9 a1.65,1.65 0 1 1 2.6,0 z" fill="#34c06a" stroke="#f2fbf5" stroke-width="0.3"/><circle cx="35.5" cy="58.8" r="0.8" fill="#dff6e7"/>
<path d="M42.3,77.6 l-1.3,-1.9 a1.65,1.65 0 1 1 2.6,0 z" fill="#34c06a" stroke="#f2fbf5" stroke-width="0.3"/><circle cx="42.3" cy="75.6" r="0.8" fill="#dff6e7"/>
<path d="M4.0,79.4 l-1.3,-1.9 a1.65,1.65 0 1 1 2.6,0 z" fill="#34c06a" stroke="#f2fbf5" stroke-width="0.3"/><circle cx="4.0" cy="77.4" r="0.8" fill="#dff6e7"/>
<path d="M6.2,61.0 l-1.3,-1.9 a1.65,1.65 0 1 1 2.6,0 z" fill="#34c06a" stroke="#f2fbf5" stroke-width="0.3"/><circle cx="6.2" cy="59.0" r="0.8" fill="#dff6e7"/>
<path d="M34.5,90.4 l-1.3,-1.9 a1.65,1.65 0 1 1 2.6,0 z" fill="#34c06a" stroke="#f2fbf5" stroke-width="0.3"/><circle cx="34.5" cy="88.4" r="0.8" fill="#dff6e7"/>
<path d="M30.5,58.9 l-1.3,-1.9 a1.65,1.65 0 1 1 2.6,0 z" fill="#34c06a" stroke="#f2fbf5" stroke-width="0.3"/><circle cx="30.5" cy="56.9" r="0.8" fill="#dff6e7"/>
<path d="M13.4,60.2 l-1.3,-1.9 a1.65,1.65 0 1 1 2.6,0 z" fill="#34c06a" stroke="#f2fbf5" stroke-width="0.3"/><circle cx="13.4" cy="58.2" r="0.8" fill="#dff6e7"/>
<circle cx="35.0" cy="49.7" r="1.6" fill="#f59b2c"/><circle cx="35.0" cy="49.7" r="0.7" fill="#fde3c4"/>
<path d="M22.0,44.9 l-1.3,-1.9 a1.65,1.65 0 1 1 2.6,0 z" fill="#34c06a" stroke="#f2fbf5" stroke-width="0.3"/><circle cx="22.0" cy="42.9" r="0.8" fill="#dff6e7"/>
<path d="M13.0,92.8 l-1.3,-1.9 a1.65,1.65 0 1 1 2.6,0 z" fill="#34c06a" stroke="#f2fbf5" stroke-width="0.3"/><circle cx="13.0" cy="90.8" r="0.8" fill="#dff6e7"/>
<path d="M40.0,44.5 l-1.3,-1.9 a1.65,1.65 0 1 1 2.6,0 z" fill="#34c06a" stroke="#f2fbf5" stroke-width="0.3"/><circle cx="40.0" cy="42.5" r="0.8" fill="#dff6e7"/>
<path d="M23.8,68.3 l-1.3,-1.9 a1.65,1.65 0 1 1 2.6,0 z" fill="#34c06a" stroke="#f2fbf5" stroke-width="0.3"/><circle cx="23.8" cy="66.3" r="0.8" fill="#dff6e7"/>
<path d="M29.6,44.4 l-1.3,-1.9 a1.65,1.65 0 1 1 2.6,0 z" fill="#34c06a" stroke="#f2fbf5" stroke-width="0.3"/><circle cx="29.6" cy="42.4" r="0.8" fill="#dff6e7"/>
<path d="M43.5,56.1 l-1.3,-1.9 a1.65,1.65 0 1 1 2.6,0 z" fill="#34c06a" stroke="#f2fbf5" stroke-width="0.3"/><circle cx="43.5" cy="54.1" r="0.8" fill="#dff6e7"/>
<path d="M31.4,77.2 l-1.3,-1.9 a1.65,1.65 0 1 1 2.6,0 z" fill="#34c06a" stroke="#f2fbf5" stroke-width="0.3"/><circle cx="31.4" cy="75.2" r="0.8" fill="#dff6e7"/>
<path d="M33.0,78.3 l-1.3,-1.9 a1.65,1.65 0 1 1 2.6,0 z" fill="#34c06a" stroke="#f2fbf5" stroke-width="0.3"/><circle cx="33.0" cy="76.3" r="0.8" fill="#dff6e7"/>
<path d="M23.4,91.9 l-1.3,-1.9 a1.65,1.65 0 1 1 2.6,0 z" fill="#34c06a" stroke="#f2fbf5" stroke-width="0.3"/><circle cx="23.4" cy="89.9" r="0.8" fill="#dff6e7"/>
<circle cx="19.3" cy="60.7" r="1.6" fill="#f59b2c"/><circle cx="19.3" cy="60.7" r="0.7" fill="#fde3c4"/>
<circle cx="24.8" cy="58.4" r="1.6" fill="#f59b2c"/><circle cx="24.8" cy="58.4" r="0.7" fill="#fde3c4"/>
<path d="M41.9,78.5 l-1.3,-1.9 a1.65,1.65 0 1 1 2.6,0 z" fill="#34c06a" stroke="#f2fbf5" stroke-width="0.3"/><circle cx="41.9" cy="76.5" r="0.8" fill="#dff6e7"/>
<path d="M13.6,75.8 l-1.3,-1.9 a1.65,1.65 0 1 1 2.6,0 z" fill="#34c06a" stroke="#f2fbf5" stroke-width="0.3"/><circle cx="13.6" cy="73.8" r="0.8" fill="#dff6e7"/>
<path d="M32.1,85.6 l-1.3,-1.9 a1.65,1.65 0 1 1 2.6,0 z" fill="#34c06a" stroke="#f2fbf5" stroke-width="0.3"/><circle cx="32.1" cy="83.6" r="0.8" fill="#dff6e7"/>
<path d="M24.4,63.3 l-1.3,-1.9 a1.65,1.65 0 1 1 2.6,0 z" fill="#34c06a" stroke="#f2fbf5" stroke-width="0.3"/><circle cx="24.4" cy="61.3" r="0.8" fill="#dff6e7"/>
<path d="M33.3,86.0 l-1.3,-1.9 a1.65,1.65 0 1 1 2.6,0 z" fill="#34c06a" stroke="#f2fbf5" stroke-width="0.3"/><circle cx="33.3" cy="84.0" r="0.8" fill="#dff6e7"/>
<circle cx="17.6" cy="80.1" r="1.6" fill="#f59b2c"/><circle cx="17.6" cy="80.1" r="0.7" fill="#fde3c4"/>
<path d="M46.5,56.8 l-1.3,-1.9 a1.65,1.65 0 1 1 2.6,0 z" fill="#34c06a" stroke="#f2fbf5" stroke-width="0.3"/><circle cx="46.5" cy="54.8" r="0.8" fill="#dff6e7"/>
<path d="M47.9,82.8 l-1.3,-1.9 a1.65,1.65 0 1 1 2.6,0 z" fill="#34c06a" stroke="#f2fbf5" stroke-width="0.3"/><circle cx="47.9" cy="80.8" r="0.8" fill="#dff6e7"/>
<path d="M24.5,75.6 l-1.3,-1.9 a1.65,1.65 0 1 1 2.6,0 z" fill="#34c06a" stroke="#f2fbf5" stroke-width="0.3"/><circle cx="24.5" cy="73.6" r="0.8" fill="#dff6e7"/>
<path d="M41.8,44.3 l-1.3,-1.9 a1.65,1.65 0 1 1 2.6,0 z" fill="#34c06a" stroke="#f2fbf5" stroke-width="0.3"/><circle cx="41.8" cy="42.3" r="0.8" fill="#dff6e7"/>
<path d="M50.0,52.0 l-1.3,-1.9 a1.65,1.65 0 1 1 2.6,0 z" fill="#34c06a" stroke="#f2fbf5" stroke-width="0.3"/><circle cx="50.0" cy="50.0" r="0.8" fill="#dff6e7"/>
<path d="M17.3,62.2 l-1.3,-1.9 a1.65,1.65 0 1 1 2.6,0 z" fill="#34c06a" stroke="#f2fbf5" stroke-width="0.3"/><circle cx="17.3" cy="60.2" r="0.8" fill="#dff6e7"/>
<path d="M14.4,58.9 l-1.3,-1.9 a1.65,1.65 0 1 1 2.6,0 z" fill="#34c06a" stroke="#f2fbf5" stroke-width="0.3"/><circle cx="14.4" cy="56.9" r="0.8" fill="#dff6e7"/>
<path d="M29.1,52.0 l-1.3,-1.9 a1.65,1.65 0 1 1 2.6,0 z" fill="#34c06a" stroke="#f2fbf5" stroke-width="0.3"/><circle cx="29.1" cy="50.0" r="0.8" fill="#dff6e7"/>
<path d="M45.3,85.1 l-1.3,-1.9 a1.65,1.65 0 1 1 2.6,0 z" fill="#34c06a" stroke="#f2fbf5" stroke-width="0.3"/><circle cx="45.3" cy="83.1" r="0.8" fill="#dff6e7"/>
<path d="M42.0,92.3 l-1.3,-1.9 a1.65,1.65 0 1 1 2.6,0 z" fill="#34c06a" stroke="#f2fbf5" stroke-width="0.3"/><circle cx="42.0" cy="90.3" r="0.8" fill="#dff6e7"/>
<path d="M38.4,80.6 l-1.3,-1.9 a1.65,1.65 0 1 1 2.6,0 z" fill="#34c06a" stroke="#f2fbf5" stroke-width="0.3"/><circle cx="38.4" cy="78.6" r="0.8" fill="#dff6e7"/>
<path d="M12.1,63.4 l-1.3,-1.9 a1.65,1.65 0 1 1 2.6,0 z" fill="#34c06a" stroke="#f2fbf5" stroke-width="0.3"/><circle cx="12.1" cy="61.4" r="0.8" fill="#dff6e7"/>
<path d="M17.5,73.1 l-1.3,-1.9 a1.65,1.65 0 1 1 2.6,0 z" fill="#34c06a" stroke="#f2fbf5" stroke-width="0.3"/><circle cx="17.5" cy="71.1" r="0.8" fill="#dff6e7"/>
<path d="M31.1,80.2 l-1.3,-1.9 a1.65,1.65 0 1 1 2.6,0 z" fill="#34c06a" stroke="#f2fbf5" stroke-width="0.3"/><circle cx="31.1" cy="78.2" r="0.8" fill="#dff6e7"/>
<path d="M32.3,52.0 l-1.3,-1.9 a1.65,1.65 0 1 1 2.6,0 z" fill="#34c06a" stroke="#f2fbf5" stroke-width="0.3"/><circle cx="32.3" cy="50.0" r="0.8" fill="#dff6e7"/>
<path d="M48.5,84.5 l-1.3,-1.9 a1.65,1.65 0 1 1 2.6,0 z" fill="#34c06a" stroke="#f2fbf5" stroke-width="0.3"/><circle cx="48.5" cy="82.5" r="0.8" fill="#dff6e7"/>
<path d="M53.6,66.1 l-1.3,-1.9 a1.65,1.65 0 1 1 2.6,0 z" fill="#34c06a" stroke="#f2fbf5" stroke-width="0.3"/><circle cx="53.6" cy="64.1" r="0.8" fill="#dff6e7"/>
<path d="M41.4,72.6 l-1.3,-1.9 a1.65,1.65 0 1 1 2.6,0 z" fill="#34c06a" stroke="#f2fbf5" stroke-width="0.3"/><circle cx="41.4" cy="70.6" r="0.8" fill="#dff6e7"/>
<path d="M42.3,63.9 l-1.3,-1.9 a1.65,1.65 0 1 1 2.6,0 z" fill="#34c06a" stroke="#f2fbf5" stroke-width="0.3"/><circle cx="42.3" cy="61.9" r="0.8" fill="#dff6e7"/>
<path d="M31.6,86.5 l-1.3,-1.9 a1.65,1.65 0 1 1 2.6,0 z" fill="#34c06a" stroke="#f2fbf5" stroke-width="0.3"/><circle cx="31.6" cy="84.5" r="0.8" fill="#dff6e7"/>
<circle cx="31.1" cy="73.6" r="1.6" fill="#f59b2c"/><circle cx="31.1" cy="73.6" r="0.7" fill="#fde3c4"/>
<path d="M9.0,65.8 l-1.3,-1.9 a1.65,1.65 0 1 1 2.6,0 z" fill="#34c06a" stroke="#f2fbf5" stroke-width="0.3"/><circle cx="9.0" cy="63.8" r="0.8" fill="#dff6e7"/>
<path d="M30.1,77.9 l-1.3,-1.9 a1.65,1.65 0 1 1 2.6,0 z" fill="#34c06a" stroke="#f2fbf5" stroke-width="0.3"/><circle cx="30.1" cy="75.9" r="0.8" fill="#dff6e7"/>
<path d="M11.8,81.7 l-1.3,-1.9 a1.65,1.65 0 1 1 2.6,0 z" fill="#34c06a" stroke="#f2fbf5" stroke-width="0.3"/><circle cx="11.8" cy="79.7" r="0.8" fill="#dff6e7"/>
<path d="M34.7,74.3 l-1.3,-1.9 a1.65,1.65 0 1 1 2.6,0 z" fill="#34c06a" stroke="#f2fbf5" stroke-width="0.3"/><circle cx="34.7" cy="72.3" r="0.8" fill="#dff6e7"/>
<path d="M29.5,87.7 l-1.3,-1.9 a1.65,1.65 0 1 1 2.6,0 z" fill="#34c06a" stroke="#f2fbf5" stroke-width="0.3"/><circle cx="29.5" cy="85.7" r="0.8" fill="#dff6e7"/>
<path d="M4.5,67.0 l-1.3,-1.9 a1.65,1.65 0 1 1 2.6,0 z" fill="#34c06a" stroke="#f2fbf5" stroke-width="0.3"/><circle cx="4.5" cy="65.0" r="0.8" fill="#dff6e7"/>
<circle cx="26.3" cy="63.5" r="1.6" fill="#f59b2c"/><circle cx="26.3" cy="63.5" r="0.7" fill="#fde3c4"/>
<path d="M27.2,83.5 l-1.3,-1.9 a1.65,1.65 0 1 1 2.6,0 z" fill="#34c06a" stroke="#f2fbf5" stroke-width="0.3"/><circle cx="27.2" cy="81.5" r="0.8" fill="#dff6e7"/>
<path d="M17.3,86.4 l-1.3,-1.9 a1.65,1.65 0 1 1 2.6,0 z" fill="#34c06a" stroke="#f2fbf5" stroke-width="0.3"/><circle cx="17.3" cy="84.4" r="0.8" fill="#dff6e7"/>
<circle cx="11.2" cy="76.9" r="1.6" fill="#f59b2c"/><circle cx="11.2" cy="76.9" r="0.7" fill="#fde3c4"/>
<path d="M32.9,60.0 l-1.3,-1.9 a1.65,1.65 0 1 1 2.6,0 z" fill="#34c06a" stroke="#f2fbf5" stroke-width="0.3"/><circle cx="32.9" cy="58.0" r="0.8" fill="#dff6e7"/>
<path d="M7.6,76.1 l-1.3,-1.9 a1.65,1.65 0 1 1 2.6,0 z" fill="#34c06a" stroke="#f2fbf5" stroke-width="0.3"/><circle cx="7.6" cy="74.1" r="0.8" fill="#dff6e7"/>
<path d="M7.0,60.3 l-1.3,-1.9 a1.65,1.65 0 1 1 2.6,0 z" fill="#34c06a" stroke="#f2fbf5" stroke-width="0.3"/><circle cx="7.0" cy="58.3" r="0.8" fill="#dff6e7"/>
<path d="M44.1,62.6 l-1.3,-1.9 a1.65,1.65 0 1 1 2.6,0 z" fill="#34c06a" stroke="#f2fbf5" stroke-width="0.3"/><circle cx="44.1" cy="60.6" r="0.8" fill="#dff6e7"/>
<path d="M43.5,60.8 l-1.3,-1.9 a1.65,1.65 0 1 1 2.6,0 z" fill="#34c06a" stroke="#f2fbf5" stroke-width="0.3"/><circle cx="43.5" cy="58.8" r="0.8" fill="#dff6e7"/>
<path d="M52.5,62.6 l-1.3,-1.9 a1.65,1.65 0 1 1 2.6,0 z" fill="#34c06a" stroke="#f2fbf5" stroke-width="0.3"/><circle cx="52.5" cy="60.6" r="0.8" fill="#dff6e7"/>
<path d="M7.9,61.8 l-1.3,-1.9 a1.65,1.65 0 1 1 2.6,0 z" fill="#34c06a" stroke="#f2fbf5" stroke-width="0.3"/><circle cx="7.9" cy="59.8" r="0.8" fill="#dff6e7"/>
<path d="M10.8,76.8 l-1.3,-1.9 a1.65,1.65 0 1 1 2.6,0 z" fill="#34c06a" stroke="#f2fbf5" stroke-width="0.3"/><circle cx="10.8" cy="74.8" r="0.8" fill="#dff6e7"/>
<path d="M24.3,86.3 l-1.3,-1.9 a1.65,1.65 0 1 1 2.6,0 z" fill="#34c06a" stroke="#f2fbf5" stroke-width="0.3"/><circle cx="24.3" cy="84.3" r="0.8" fill="#dff6e7"/>
<circle cx="20.5" cy="86.2" r="1.6" fill="#f59b2c"/><circle cx="20.5" cy="86.2" r="0.7" fill="#fde3c4"/>
<path d="M14.1,69.4 l-1.3,-1.9 a1.65,1.65 0 1 1 2.6,0 z" fill="#34c06a" stroke="#f2fbf5" stroke-width="0.3"/><circle cx="14.1" cy="67.4" r="0.8" fill="#dff6e7"/>
<path d="M47.9,57.3 l-1.3,-1.9 a1.65,1.65 0 1 1 2.6,0 z" fill="#34c06a" stroke="#f2fbf5" stroke-width="0.3"/><circle cx="47.9" cy="55.3" r="0.8" fill="#dff6e7"/>
<circle cx="27.9" cy="61.1" r="1.6" fill="#f59b2c"/><circle cx="27.9" cy="61.1" r="0.7" fill="#fde3c4"/>
<path d="M30.9,45.1 l-1.3,-1.9 a1.65,1.65 0 1 1 2.6,0 z" fill="#34c06a" stroke="#f2fbf5" stroke-width="0.3"/><circle cx="30.9" cy="43.1" r="0.8" fill="#dff6e7"/>
<path d="M16.4,53.6 l-1.3,-1.9 a1.65,1.65 0 1 1 2.6,0 z" fill="#34c06a" stroke="#f2fbf5" stroke-width="0.3"/><circle cx="16.4" cy="51.6" r="0.8" fill="#dff6e7"/>
<path d="M25.5,61.5 l-1.3,-1.9 a1.65,1.65 0 1 1 2.6,0 z" fill="#34c06a" stroke="#f2fbf5" stroke-width="0.3"/><circle cx="25.5" cy="59.5" r="0.8" fill="#dff6e7"/>
<path d="M21.2,85.2 l-1.3,-1.9 a1.65,1.65 0 1 1 2.6,0 z" fill="#34c06a" stroke="#f2fbf5" stroke-width="0.3"/><circle cx="21.2" cy="83.2" r="0.8" fill="#dff6e7"/>
<path d="M8.0,55.3 l-1.3,-1.9 a1.65,1.65 0 1 1 2.6,0 z" fill="#34c06a" stroke="#f2fbf5" stroke-width="0.3"/><circle cx="8.0" cy="53.3" r="0.8" fill="#dff6e7"/>
<path d="M17.8,92.1 l-1.3,-1.9 a1.65,1.65 0 1 1 2.6,0 z" fill="#34c06a" stroke="#f2fbf5" stroke-width="0.3"/><circle cx="17.8" cy="90.1" r="0.8" fill="#dff6e7"/>
<path d="M31.8,92.9 l-1.3,-1.9 a1.65,1.65 0 1 1 2.6,0 z" fill="#34c06a" stroke="#f2fbf5" stroke-width="0.3"/><circle cx="31.8" cy="90.9" r="0.8" fill="#dff6e7"/>
<path d="M27.9,93.9 l-1.3,-1.9 a1.65,1.65 0 1 1 2.6,0 z" fill="#34c06a" stroke="#f2fbf5" stroke-width="0.3"/><circle cx="27.9" cy="91.9" r="0.8" fill="#dff6e7"/>
<path d="M36.1,70.5 l-1.3,-1.9 a1.65,1.65 0 1 1 2.6,0 z" fill="#34c06a" stroke="#f2fbf5" stroke-width="0.3"/><circle cx="36.1" cy="68.5" r="0.8" fill="#dff6e7"/>
<path d="M37.5,41.2 l-1.3,-1.9 a1.65,1.65 0 1 1 2.6,0 z" fill="#34c06a" stroke="#f2fbf5" stroke-width="0.3"/><circle cx="37.5" cy="39.2" r="0.8" fill="#dff6e7"/>
<path d="M44.3,91.0 l-1.3,-1.9 a1.65,1.65 0 1 1 2.6,0 z" fill="#34c06a" stroke="#f2fbf5" stroke-width="0.3"/><circle cx="44.3" cy="89.0" r="0.8" fill="#dff6e7"/>
<path d="M28.7,93.0 l-1.3,-1.9 a1.65,1.65 0 1 1 2.6,0 z" fill="#34c06a" stroke="#f2fbf5" stroke-width="0.3"/><circle cx="28.7" cy="91.0" r="0.8" fill="#dff6e7"/>
<path d="M44.6,73.8 l-1.3,-1.9 a1.65,1.65 0 1 1 2.6,0 z" fill="#34c06a" stroke="#f2fbf5" stroke-width="0.3"/><circle cx="44.6" cy="71.8" r="0.8" fill="#dff6e7"/>
<path d="M46.5,86.6 l-1.3,-1.9 a1.65,1.65 0 1 1 2.6,0 z" fill="#34c06a" stroke="#f2fbf5" stroke-width="0.3"/><circle cx="46.5" cy="84.6" r="0.8" fill="#dff6e7"/>
<path d="M21.4,77.0 l-1.3,-1.9 a1.65,1.65 0 1 1 2.6,0 z" fill="#34c06a" stroke="#f2fbf5" stroke-width="0.3"/><circle cx="21.4" cy="75.0" r="0.8" fill="#dff6e7"/>
<path d="M21.4,76.3 l-1.3,-1.9 a1.65,1.65 0 1 1 2.6,0 z" fill="#34c06a" stroke="#f2fbf5" stroke-width="0.3"/><circle cx="21.4" cy="74.3" r="0.8" fill="#dff6e7"/>
<path d="M9.9,79.4 l-1.3,-1.9 a1.65,1.65 0 1 1 2.6,0 z" fill="#34c06a" stroke="#f2fbf5" stroke-width="0.3"/><circle cx="9.9" cy="77.4" r="0.8" fill="#dff6e7"/>
<path d="M13.7,48.8 l-1.3,-1.9 a1.65,1.65 0 1 1 2.6,0 z" fill="#34c06a" stroke="#f2fbf5" stroke-width="0.3"/><circle cx="13.7" cy="46.8" r="0.8" fill="#dff6e7"/>
<circle cx="12.7" cy="85.5" r="1.6" fill="#f59b2c"/><circle cx="12.7" cy="85.5" r="0.7" fill="#fde3c4"/>
<path d="M32.0,57.6 l-1.3,-1.9 a1.65,1.65 0 1 1 2.6,0 z" fill="#34c06a" stroke="#f2fbf5" stroke-width="0.3"/><circle cx="32.0" cy="55.6" r="0.8" fill="#dff6e7"/>
<path d="M25.6,78.2 l-1.3,-1.9 a1.65,1.65 0 1 1 2.6,0 z" fill="#34c06a" stroke="#f2fbf5" stroke-width="0.3"/><circle cx="25.6" cy="76.2" r="0.8" fill="#dff6e7"/>
<path d="M9.0,70.3 l-1.3,-1.9 a1.65,1.65 0 1 1 2.6,0 z" fill="#34c06a" stroke="#f2fbf5" stroke-width="0.3"/><circle cx="9.0" cy="68.3" r="0.8" fill="#dff6e7"/>
<path d="M21.1,87.7 l-1.3,-1.9 a1.65,1.65 0 1 1 2.6,0 z" fill="#34c06a" stroke="#f2fbf5" stroke-width="0.3"/><circle cx="21.1" cy="85.7" r="0.8" fill="#dff6e7"/>
<path d="M36.1,54.9 l-1.3,-1.9 a1.65,1.65 0 1 1 2.6,0 z" fill="#34c06a" stroke="#f2fbf5" stroke-width="0.3"/><circle cx="36.1" cy="52.9" r="0.8" fill="#dff6e7"/>
<path d="M10.3,51.5 l-1.3,-1.9 a1.65,1.65 0 1 1 2.6,0 z" fill="#34c06a" stroke="#f2fbf5" stroke-width="0.3"/><circle cx="10.3" cy="49.5" r="0.8" fill="#dff6e7"/>
<path d="M24.3,55.4 l-1.3,-1.9 a1.65,1.65 0 1 1 2.6,0 z" fill="#34c06a" stroke="#f2fbf5" stroke-width="0.3"/><circle cx="24.3" cy="53.4" r="0.8" fill="#dff6e7"/>
<path d="M25.6,82.2 l-1.3,-1.9 a1.65,1.65 0 1 1 2.6,0 z" fill="#34c06a" stroke="#f2fbf5" stroke-width="0.3"/><circle cx="25.6" cy="80.2" r="0.8" fill="#dff6e7"/>
<path d="M46.3,61.5 l-1.3,-1.9 a1.65,1.65 0 1 1 2.6,0 z" fill="#34c06a" stroke="#f2fbf5" stroke-width="0.3"/><circle cx="46.3" cy="59.5" r="0.8" fill="#dff6e7"/>
<path d="M21.2,56.9 l-1.3,-1.9 a1.65,1.65 0 1 1 2.6,0 z" fill="#34c06a" stroke="#f2fbf5" stroke-width="0.3"/><circle cx="21.2" cy="54.9" r="0.8" fill="#dff6e7"/>
<path d="M19.3,46.1 l-1.3,-1.9 a1.65,1.65 0 1 1 2.6,0 z" fill="#34c06a" stroke="#f2fbf5" stroke-width="0.3"/><circle cx="19.3" cy="44.1" r="0.8" fill="#dff6e7"/>
<path d="M41.7,68.7 l-1.3,-1.9 a1.65,1.65 0 1 1 2.6,0 z" fill="#34c06a" stroke="#f2fbf5" stroke-width="0.3"/><circle cx="41.7" cy="66.7" r="0.8" fill="#dff6e7"/>
<path d="M33.2,68.8 l-1.3,-1.9 a1.65,1.65 0 1 1 2.6,0 z" fill="#34c06a" stroke="#f2fbf5" stroke-width="0.3"/><circle cx="33.2" cy="66.8" r="0.8" fill="#dff6e7"/>
<path d="M30.4,83.4 l-1.3,-1.9 a1.65,1.65 0 1 1 2.6,0 z" fill="#34c06a" stroke="#f2fbf5" stroke-width="0.3"/><circle cx="30.4" cy="81.4" r="0.8" fill="#dff6e7"/>
<path d="M28.9,39.2 l-1.3,-1.9 a1.65,1.65 0 1 1 2.6,0 z" fill="#34c06a" stroke="#f2fbf5" stroke-width="0.3"/><circle cx="28.9" cy="37.2" r="0.8" fill="#dff6e7"/>
<circle cx="35.0" cy="78.3" r="1.6" fill="#f59b2c"/><circle cx="35.0" cy="78.3" r="0.7" fill="#fde3c4"/>
<path d="M46.7,65.4 l-1.3,-1.9 a1.65,1.65 0 1 1 2.6,0 z" fill="#34c06a" stroke="#f2fbf5" stroke-width="0.3"/><circle cx="46.7" cy="63.4" r="0.8" fill="#dff6e7"/>
<path d="M18.4,81.6 l-1.3,-1.9 a1.65,1.65 0 1 1 2.6,0 z" fill="#34c06a" stroke="#f2fbf5" stroke-width="0.3"/><circle cx="18.4" cy="79.6" r="0.8" fill="#dff6e7"/>
<path d="M18.1,68.2 l-1.3,-1.9 a1.65,1.65 0 1 1 2.6,0 z" fill="#34c06a" stroke="#f2fbf5" stroke-width="0.3"/><circle cx="18.1" cy="66.2" r="0.8" fill="#dff6e7"/>
<path d="M44.5,48.2 l-1.3,-1.9 a1.65,1.65 0 1 1 2.6,0 z" fill="#34c06a" stroke="#f2fbf5" stroke-width="0.3"/><circle cx="44.5" cy="46.2" r="0.8" fill="#dff6e7"/>
<path d="M4.8,76.6 l-1.3,-1.9 a1.65,1.65 0 1 1 2.6,0 z" fill="#34c06a" stroke="#f2fbf5" stroke-width="0.3"/><circle cx="4.8" cy="74.6" r="0.8" fill="#dff6e7"/>
<path d="M40.4,45.4 l-1.3,-1.9 a1.65,1.65 0 1 1 2.6,0 z" fill="#34c06a" stroke="#f2fbf5" stroke-width="0.3"/><circle cx="40.4" cy="43.4" r="0.8" fill="#dff6e7"/>
<path d="M6.1,76.7 l-1.3,-1.9 a1.65,1.65 0 1 1 2.6,0 z" fill="#34c06a" stroke="#f2fbf5" stroke-width="0.3"/><circle cx="6.1" cy="74.7" r="0.8" fill="#dff6e7"/>
<path d="M19.9,75.2 l-1.3,-1.9 a1.65,1.65 0 1 1 2.6,0 z" fill="#34c06a" stroke="#f2fbf5" stroke-width="0.3"/><circle cx="19.9" cy="73.2" r="0.8" fill="#dff6e7"/>
<path d="M42.1,90.3 l-1.3,-1.9 a1.65,1.65 0 1 1 2.6,0 z" fill="#34c06a" stroke="#f2fbf5" stroke-width="0.3"/><circle cx="42.1" cy="88.3" r="0.8" fill="#dff6e7"/>
<circle cx="16.0" cy="56.8" r="1.6" fill="#f59b2c"/><circle cx="16.0" cy="56.8" r="0.7" fill="#fde3c4"/>
<circle cx="29.4" cy="38.8" r="1.6" fill="#f59b2c"/><circle cx="29.4" cy="38.8" r="0.7" fill="#fde3c4"/>
<path d="M36.8,90.0 l-1.3,-1.9 a1.65,1.65 0 1 1 2.6,0 z" fill="#34c06a" stroke="#f2fbf5" stroke-width="0.3"/><circle cx="36.8" cy="88.0" r="0.8" fill="#dff6e7"/>
<path d="M12.0,57.9 l-1.3,-1.9 a1.65,1.65 0 1 1 2.6,0 z" fill="#34c06a" stroke="#f2fbf5" stroke-width="0.3"/><circle cx="12.0" cy="55.9" r="0.8" fill="#dff6e7"/>
<path d="M19.1,87.6 l-1.3,-1.9 a1.65,1.65 0 1 1 2.6,0 z" fill="#34c06a" stroke="#f2fbf5" stroke-width="0.3"/><circle cx="19.1" cy="85.6" r="0.8" fill="#dff6e7"/>
<path d="M9.5,77.2 l-1.3,-1.9 a1.65,1.65 0 1 1 2.6,0 z" fill="#34c06a" stroke="#f2fbf5" stroke-width="0.3"/><circle cx="9.5" cy="75.2" r="0.8" fill="#dff6e7"/>
<path d="M35.3,49.1 l-1.3,-1.9 a1.65,1.65 0 1 1 2.6,0 z" fill="#34c06a" stroke="#f2fbf5" stroke-width="0.3"/><circle cx="35.3" cy="47.1" r="0.8" fill="#dff6e7"/>
<circle cx="29.2" cy="63.4" r="1.6" fill="#f59b2c"/><circle cx="29.2" cy="63.4" r="0.7" fill="#fde3c4"/>
<path d="M18.5,94.4 l-1.3,-1.9 a1.65,1.65 0 1 1 2.6,0 z" fill="#34c06a" stroke="#f2fbf5" stroke-width="0.3"/><circle cx="18.5" cy="92.4" r="0.8" fill="#dff6e7"/>
<path d="M10.1,52.6 l-1.3,-1.9 a1.65,1.65 0 1 1 2.6,0 z" fill="#34c06a" stroke="#f2fbf5" stroke-width="0.3"/><circle cx="10.1" cy="50.6" r="0.8" fill="#dff6e7"/>
<path d="M4.4,68.7 l-1.3,-1.9 a1.65,1.65 0 1 1 2.6,0 z" fill="#34c06a" stroke="#f2fbf5" stroke-width="0.3"/><circle cx="4.4" cy="66.7" r="0.8" fill="#dff6e7"/>
<path d="M16.1,92.7 l-1.3,-1.9 a1.65,1.65 0 1 1 2.6,0 z" fill="#34c06a" stroke="#f2fbf5" stroke-width="0.3"/><circle cx="16.1" cy="90.7" r="0.8" fill="#dff6e7"/>
<path d="M32.3,91.7 l-1.3,-1.9 a1.65,1.65 0 1 1 2.6,0 z" fill="#34c06a" stroke="#f2fbf5" stroke-width="0.3"/><circle cx="32.3" cy="89.7" r="0.8" fill="#dff6e7"/>
<path d="M16.0,93.1 l-1.3,-1.9 a1.65,1.65 0 1 1 2.6,0 z" fill="#34c06a" stroke="#f2fbf5" stroke-width="0.3"/><circle cx="16.0" cy="91.1" r="0.8" fill="#dff6e7"/>
<path d="M20.1,85.7 l-1.3,-1.9 a1.65,1.65 0 1 1 2.6,0 z" fill="#34c06a" stroke="#f2fbf5" stroke-width="0.3"/><circle cx="20.1" cy="83.7" r="0.8" fill="#dff6e7"/>
<path d="M6.8,51.8 l-1.3,-1.9 a1.65,1.65 0 1 1 2.6,0 z" fill="#34c06a" stroke="#f2fbf5" stroke-width="0.3"/><circle cx="6.8" cy="49.8" r="0.8" fill="#dff6e7"/>
<path d="M22.5,53.2 l-1.3,-1.9 a1.65,1.65 0 1 1 2.6,0 z" fill="#34c06a" stroke="#f2fbf5" stroke-width="0.3"/><circle cx="22.5" cy="51.2" r="0.8" fill="#dff6e7"/>
<path d="M1.6,62.2 l-1.3,-1.9 a1.65,1.65 0 1 1 2.6,0 z" fill="#34c06a" stroke="#f2fbf5" stroke-width="0.3"/><circle cx="1.6" cy="60.2" r="0.8" fill="#dff6e7"/>
<path d="M15.7,71.5 l-1.3,-1.9 a1.65,1.65 0 1 1 2.6,0 z" fill="#34c06a" stroke="#f2fbf5" stroke-width="0.3"/><circle cx="15.7" cy="69.5" r="0.8" fill="#dff6e7"/>
<path d="M50.6,62.6 l-1.3,-1.9 a1.65,1.65 0 1 1 2.6,0 z" fill="#34c06a" stroke="#f2fbf5" stroke-width="0.3"/><circle cx="50.6" cy="60.6" r="0.8" fill="#dff6e7"/>
<path d="M20.2,66.9 l-1.3,-1.9 a1.65,1.65 0 1 1 2.6,0 z" fill="#34c06a" stroke="#f2fbf5" stroke-width="0.3"/><circle cx="20.2" cy="64.9" r="0.8" fill="#dff6e7"/>
<circle cx="30.0" cy="61.9" r="1.6" fill="#f59b2c"/><circle cx="30.0" cy="61.9" r="0.7" fill="#fde3c4"/>
<path d="M18.9,47.2 l-1.3,-1.9 a1.65,1.65 0 1 1 2.6,0 z" fill="#34c06a" stroke="#f2fbf5" stroke-width="0.3"/><circle cx="18.9" cy="45.2" r="0.8" fill="#dff6e7"/>
<path d="M34.6,43.1 l-1.3,-1.9 a1.65,1.65 0 1 1 2.6,0 z" fill="#34c06a" stroke="#f2fbf5" stroke-width="0.3"/><circle cx="34.6" cy="41.1" r="0.8" fill="#dff6e7"/>
<path d="M16.6,81.6 l-1.3,-1.9 a1.65,1.65 0 1 1 2.6,0 z" fill="#34c06a" stroke="#f2fbf5" stroke-width="0.3"/><circle cx="16.6" cy="79.6" r="0.8" fill="#dff6e7"/>
<path d="M39.7,86.9 l-1.3,-1.9 a1.65,1.65 0 1 1 2.6,0 z" fill="#34c06a" stroke="#f2fbf5" stroke-width="0.3"/><circle cx="39.7" cy="84.9" r="0.8" fill="#dff6e7"/>
<path d="M31.6,75.9 l-1.3,-1.9 a1.65,1.65 0 1 1 2.6,0 z" fill="#34c06a" stroke="#f2fbf5" stroke-width="0.3"/><circle cx="31.6" cy="73.9" r="0.8" fill="#dff6e7"/>
<path d="M4.1,75.6 l-1.3,-1.9 a1.65,1.65 0 1 1 2.6,0 z" fill="#34c06a" stroke="#f2fbf5" stroke-width="0.3"/><circle cx="4.1" cy="73.6" r="0.8" fill="#dff6e7"/>
<path d="M32.8,54.7 l-1.3,-1.9 a1.65,1.65 0 1 1 2.6,0 z" fill="#34c06a" stroke="#f2fbf5" stroke-width="0.3"/><circle cx="32.8" cy="52.7" r="0.8" fill="#dff6e7"/>
<path d="M38.1,72.0 l-1.3,-1.9 a1.65,1.65 0 1 1 2.6,0 z" fill="#34c06a" stroke="#f2fbf5" stroke-width="0.3"/><circle cx="38.1" cy="70.0" r="0.8" fill="#dff6e7"/>
<path d="M26.9,72.1 l-1.3,-1.9 a1.65,1.65 0 1 1 2.6,0 z" fill="#34c06a" stroke="#f2fbf5" stroke-width="0.3"/><circle cx="26.9" cy="70.1" r="0.8" fill="#dff6e7"/>
<path d="M37.6,51.4 l-1.3,-1.9 a1.65,1.65 0 1 1 2.6,0 z" fill="#34c06a" stroke="#f2fbf5" stroke-width="0.3"/><circle cx="37.6" cy="49.4" r="0.8" fill="#dff6e7"/>
<path d="M15.0,59.6 l-1.3,-1.9 a1.65,1.65 0 1 1 2.6,0 z" fill="#34c06a" stroke="#f2fbf5" stroke-width="0.3"/><circle cx="15.0" cy="57.6" r="0.8" fill="#dff6e7"/>
<path d="M13.0,62.9 l-1.3,-1.9 a1.65,1.65 0 1 1 2.6,0 z" fill="#34c06a" stroke="#f2fbf5" stroke-width="0.3"/><circle cx="13.0" cy="60.9" r="0.8" fill="#dff6e7"/>
<path d="M26.7,77.4 l-1.3,-1.9 a1.65,1.65 0 1 1 2.6,0 z" fill="#34c06a" stroke="#f2fbf5" stroke-width="0.3"/><circle cx="26.7" cy="75.4" r="0.8" fill="#dff6e7"/>
<path d="M26.3,72.3 l-1.3,-1.9 a1.65,1.65 0 1 1 2.6,0 z" fill="#34c06a" stroke="#f2fbf5" stroke-width="0.3"/><circle cx="26.3" cy="70.3" r="0.8" fill="#dff6e7"/>
<path d="M23.2,60.1 l-1.3,-1.9 a1.65,1.65 0 1 1 2.6,0 z" fill="#34c06a" stroke="#f2fbf5" stroke-width="0.3"/><circle cx="23.2" cy="58.1" r="0.8" fill="#dff6e7"/>
<path d="M35.1,50.0 l-1.3,-1.9 a1.65,1.65 0 1 1 2.6,0 z" fill="#34c06a" stroke="#f2fbf5" stroke-width="0.3"/><circle cx="35.1" cy="48.0" r="0.8" fill="#dff6e7"/>
<circle cx="23.6" cy="45.6" r="1.6" fill="#f59b2c"/><circle cx="23.6" cy="45.6" r="0.7" fill="#fde3c4"/>
<path d="M41.1,58.2 l-1.3,-1.9 a1.65,1.65 0 1 1 2.6,0 z" fill="#34c06a" stroke="#f2fbf5" stroke-width="0.3"/><circle cx="41.1" cy="56.2" r="0.8" fill="#dff6e7"/>
<path d="M12.5,72.3 l-1.3,-1.9 a1.65,1.65 0 1 1 2.6,0 z" fill="#34c06a" stroke="#f2fbf5" stroke-width="0.3"/><circle cx="12.5" cy="70.3" r="0.8" fill="#dff6e7"/>
<path d="M33.5,51.6 l-1.3,-1.9 a1.65,1.65 0 1 1 2.6,0 z" fill="#34c06a" stroke="#f2fbf5" stroke-width="0.3"/><circle cx="33.5" cy="49.6" r="0.8" fill="#dff6e7"/>
<path d="M40.3,83.7 l-1.3,-1.9 a1.65,1.65 0 1 1 2.6,0 z" fill="#34c06a" stroke="#f2fbf5" stroke-width="0.3"/><circle cx="40.3" cy="81.7" r="0.8" fill="#dff6e7"/>
<path d="M30.5,60.2 l-1.3,-1.9 a1.65,1.65 0 1 1 2.6,0 z" fill="#34c06a" stroke="#f2fbf5" stroke-width="0.3"/><circle cx="30.5" cy="58.2" r="0.8" fill="#dff6e7"/>
<path d="M23.7,63.4 l-1.3,-1.9 a1.65,1.65 0 1 1 2.6,0 z" fill="#34c06a" stroke="#f2fbf5" stroke-width="0.3"/><circle cx="23.7" cy="61.4" r="0.8" fill="#dff6e7"/>
<circle cx="29.2" cy="36.2" r="1.6" fill="#f59b2c"/><circle cx="29.2" cy="36.2" r="0.7" fill="#fde3c4"/>
<path d="M17.4,100.4 l-1.3,-1.9 a1.65,1.65 0 1 1 2.6,0 z" fill="#34c06a" stroke="#f2fbf5" stroke-width="0.3"/><circle cx="17.4" cy="98.4" r="0.8" fill="#dff6e7"/>
<path d="M14.6,102.3 l-1.3,-1.9 a1.65,1.65 0 1 1 2.6,0 z" fill="#34c06a" stroke="#f2fbf5" stroke-width="0.3"/><circle cx="14.6" cy="100.3" r="0.8" fill="#dff6e7"/>
<path d="M6.5,101.7 l-1.3,-1.9 a1.65,1.65 0 1 1 2.6,0 z" fill="#34c06a" stroke="#f2fbf5" stroke-width="0.3"/><circle cx="6.5" cy="99.7" r="0.8" fill="#dff6e7"/>
<circle cx="27.5" cy="99.1" r="1.6" fill="#f59b2c"/><circle cx="27.5" cy="99.1" r="0.7" fill="#fde3c4"/>
<path d="M23.3,100.1 l-1.3,-1.9 a1.65,1.65 0 1 1 2.6,0 z" fill="#34c06a" stroke="#f2fbf5" stroke-width="0.3"/><circle cx="23.3" cy="98.1" r="0.8" fill="#dff6e7"/>
<path d="M31.6,94.5 l-1.3,-1.9 a1.65,1.65 0 1 1 2.6,0 z" fill="#34c06a" stroke="#f2fbf5" stroke-width="0.3"/><circle cx="31.6" cy="92.5" r="0.8" fill="#dff6e7"/>
<path d="M18.2,104.6 l-1.3,-1.9 a1.65,1.65 0 1 1 2.6,0 z" fill="#34c06a" stroke="#f2fbf5" stroke-width="0.3"/><circle cx="18.2" cy="102.6" r="0.8" fill="#dff6e7"/>
<circle cx="9.3" cy="90.5" r="1.6" fill="#f59b2c"/><circle cx="9.3" cy="90.5" r="0.7" fill="#fde3c4"/>
<path d="M13.7,106.6 l-1.3,-1.9 a1.65,1.65 0 1 1 2.6,0 z" fill="#34c06a" stroke="#f2fbf5" stroke-width="0.3"/><circle cx="13.7" cy="104.6" r="0.8" fill="#dff6e7"/>
<path d="M9.8,98.7 l-1.3,-1.9 a1.65,1.65 0 1 1 2.6,0 z" fill="#34c06a" stroke="#f2fbf5" stroke-width="0.3"/><circle cx="9.8" cy="96.7" r="0.8" fill="#dff6e7"/>
<path d="M26.3,94.4 l-1.3,-1.9 a1.65,1.65 0 1 1 2.6,0 z" fill="#34c06a" stroke="#f2fbf5" stroke-width="0.3"/><circle cx="26.3" cy="92.4" r="0.8" fill="#dff6e7"/>
<path d="M16.9,93.2 l-1.3,-1.9 a1.65,1.65 0 1 1 2.6,0 z" fill="#34c06a" stroke="#f2fbf5" stroke-width="0.3"/><circle cx="16.9" cy="91.2" r="0.8" fill="#dff6e7"/>
<path d="M26.6,109.3 l-1.3,-1.9 a1.65,1.65 0 1 1 2.6,0 z" fill="#34c06a" stroke="#f2fbf5" stroke-width="0.3"/><circle cx="26.6" cy="107.3" r="0.8" fill="#dff6e7"/>
<circle cx="29.8" cy="92.5" r="1.6" fill="#f59b2c"/><circle cx="29.8" cy="92.5" r="0.7" fill="#fde3c4"/>
<path d="M29.0,100.7 l-1.3,-1.9 a1.65,1.65 0 1 1 2.6,0 z" fill="#34c06a" stroke="#f2fbf5" stroke-width="0.3"/><circle cx="29.0" cy="98.7" r="0.8" fill="#dff6e7"/>
<path d="M20.8,93.4 l-1.3,-1.9 a1.65,1.65 0 1 1 2.6,0 z" fill="#34c06a" stroke="#f2fbf5" stroke-width="0.3"/><circle cx="20.8" cy="91.4" r="0.8" fill="#dff6e7"/>
<path d="M21.1,106.6 l-1.3,-1.9 a1.65,1.65 0 1 1 2.6,0 z" fill="#34c06a" stroke="#f2fbf5" stroke-width="0.3"/><circle cx="21.1" cy="104.6" r="0.8" fill="#dff6e7"/>
<path d="M7.5,94.9 l-1.3,-1.9 a1.65,1.65 0 1 1 2.6,0 z" fill="#34c06a" stroke="#f2fbf5" stroke-width="0.3"/><circle cx="7.5" cy="92.9" r="0.8" fill="#dff6e7"/>
<path d="M6.8,101.3 l-1.3,-1.9 a1.65,1.65 0 1 1 2.6,0 z" fill="#34c06a" stroke="#f2fbf5" stroke-width="0.3"/><circle cx="6.8" cy="99.3" r="0.8" fill="#dff6e7"/>
<path d="M3.9,103.8 l-1.3,-1.9 a1.65,1.65 0 1 1 2.6,0 z" fill="#34c06a" stroke="#f2fbf5" stroke-width="0.3"/><circle cx="3.9" cy="101.8" r="0.8" fill="#dff6e7"/>
<path d="M5.5,106.4 l-1.3,-1.9 a1.65,1.65 0 1 1 2.6,0 z" fill="#34c06a" stroke="#f2fbf5" stroke-width="0.3"/><circle cx="5.5" cy="104.4" r="0.8" fill="#dff6e7"/>
<path d="M29.7,96.2 l-1.3,-1.9 a1.65,1.65 0 1 1 2.6,0 z" fill="#34c06a" stroke="#f2fbf5" stroke-width="0.3"/><circle cx="29.7" cy="94.2" r="0.8" fill="#dff6e7"/>
<path d="M29.1,96.6 l-1.3,-1.9 a1.65,1.65 0 1 1 2.6,0 z" fill="#34c06a" stroke="#f2fbf5" stroke-width="0.3"/><circle cx="29.1" cy="94.6" r="0.8" fill="#dff6e7"/>
<path d="M24.7,93.1 l-1.3,-1.9 a1.65,1.65 0 1 1 2.6,0 z" fill="#34c06a" stroke="#f2fbf5" stroke-width="0.3"/><circle cx="24.7" cy="91.1" r="0.8" fill="#dff6e7"/>
<path d="M5.2,106.5 l-1.3,-1.9 a1.65,1.65 0 1 1 2.6,0 z" fill="#34c06a" stroke="#f2fbf5" stroke-width="0.3"/><circle cx="5.2" cy="104.5" r="0.8" fill="#dff6e7"/>
<path d="M10.5,90.9 l-1.3,-1.9 a1.65,1.65 0 1 1 2.6,0 z" fill="#34c06a" stroke="#f2fbf5" stroke-width="0.3"/><circle cx="10.5" cy="88.9" r="0.8" fill="#dff6e7"/>
<path d="M30.4,105.9 l-1.3,-1.9 a1.65,1.65 0 1 1 2.6,0 z" fill="#34c06a" stroke="#f2fbf5" stroke-width="0.3"/><circle cx="30.4" cy="103.9" r="0.8" fill="#dff6e7"/>
<path d="M12.0,103.1 l-1.3,-1.9 a1.65,1.65 0 1 1 2.6,0 z" fill="#34c06a" stroke="#f2fbf5" stroke-width="0.3"/><circle cx="12.0" cy="101.1" r="0.8" fill="#dff6e7"/>
<path d="M27.5,107.8 l-1.3,-1.9 a1.65,1.65 0 1 1 2.6,0 z" fill="#34c06a" stroke="#f2fbf5" stroke-width="0.3"/><circle cx="27.5" cy="105.8" r="0.8" fill="#dff6e7"/>
<path d="M32.1,98.2 l-1.3,-1.9 a1.65,1.65 0 1 1 2.6,0 z" fill="#34c06a" stroke="#f2fbf5" stroke-width="0.3"/><circle cx="32.1" cy="96.2" r="0.8" fill="#dff6e7"/>
<path d="M20.1,89.3 l-1.3,-1.9 a1.65,1.65 0 1 1 2.6,0 z" fill="#34c06a" stroke="#f2fbf5" stroke-width="0.3"/><circle cx="20.1" cy="87.3" r="0.8" fill="#dff6e7"/>
<path d="M32.4,103.9 l-1.3,-1.9 a1.65,1.65 0 1 1 2.6,0 z" fill="#34c06a" stroke="#f2fbf5" stroke-width="0.3"/><circle cx="32.4" cy="101.9" r="0.8" fill="#dff6e7"/>
<path d="M29.7,92.8 l-1.3,-1.9 a1.65,1.65 0 1 1 2.6,0 z" fill="#34c06a" stroke="#f2fbf5" stroke-width="0.3"/><circle cx="29.7" cy="90.8" r="0.8" fill="#dff6e7"/>
<path d="M26.9,95.3 l-1.3,-1.9 a1.65,1.65 0 1 1 2.6,0 z" fill="#34c06a" stroke="#f2fbf5" stroke-width="0.3"/><circle cx="26.9" cy="93.3" r="0.8" fill="#dff6e7"/>
<path d="M18.2,107.6 l-1.3,-1.9 a1.65,1.65 0 1 1 2.6,0 z" fill="#34c06a" stroke="#f2fbf5" stroke-width="0.3"/><circle cx="18.2" cy="105.6" r="0.8" fill="#dff6e7"/>
<circle cx="25.3" cy="92.5" r="1.6" fill="#f59b2c"/><circle cx="25.3" cy="92.5" r="0.7" fill="#fde3c4"/>
<path d="M18.8,95.3 l-1.3,-1.9 a1.65,1.65 0 1 1 2.6,0 z" fill="#34c06a" stroke="#f2fbf5" stroke-width="0.3"/><circle cx="18.8" cy="93.3" r="0.8" fill="#dff6e7"/>
<path d="M30.1,93.9 l-1.3,-1.9 a1.65,1.65 0 1 1 2.6,0 z" fill="#34c06a" stroke="#f2fbf5" stroke-width="0.3"/><circle cx="30.1" cy="91.9" r="0.8" fill="#dff6e7"/>
<path d="M27.4,107.4 l-1.3,-1.9 a1.65,1.65 0 1 1 2.6,0 z" fill="#34c06a" stroke="#f2fbf5" stroke-width="0.3"/><circle cx="27.4" cy="105.4" r="0.8" fill="#dff6e7"/>
<path d="M9.6,93.9 l-1.3,-1.9 a1.65,1.65 0 1 1 2.6,0 z" fill="#34c06a" stroke="#f2fbf5" stroke-width="0.3"/><circle cx="9.6" cy="91.9" r="0.8" fill="#dff6e7"/>
<path d="M29.4,102.8 l-1.3,-1.9 a1.65,1.65 0 1 1 2.6,0 z" fill="#34c06a" stroke="#f2fbf5" stroke-width="0.3"/><circle cx="29.4" cy="100.8" r="0.8" fill="#dff6e7"/>
<path d="M21.1,104.7 l-1.3,-1.9 a1.65,1.65 0 1 1 2.6,0 z" fill="#34c06a" stroke="#f2fbf5" stroke-width="0.3"/><circle cx="21.1" cy="102.7" r="0.8" fill="#dff6e7"/>
<path d="M23.3,97.5 l-1.3,-1.9 a1.65,1.65 0 1 1 2.6,0 z" fill="#34c06a" stroke="#f2fbf5" stroke-width="0.3"/><circle cx="23.3" cy="95.5" r="0.8" fill="#dff6e7"/>
<path d="M24.6,104.9 l-1.3,-1.9 a1.65,1.65 0 1 1 2.6,0 z" fill="#34c06a" stroke="#f2fbf5" stroke-width="0.3"/><circle cx="24.6" cy="102.9" r="0.8" fill="#dff6e7"/>
<circle cx="9.3" cy="92.2" r="1.6" fill="#f59b2c"/><circle cx="9.3" cy="92.2" r="0.7" fill="#fde3c4"/>
<circle cx="28.2" cy="91.6" r="1.6" fill="#f59b2c"/><circle cx="28.2" cy="91.6" r="0.7" fill="#fde3c4"/>
<path d="M30.0,105.0 l-1.3,-1.9 a1.65,1.65 0 1 1 2.6,0 z" fill="#34c06a" stroke="#f2fbf5" stroke-width="0.3"/><circle cx="30.0" cy="103.0" r="0.8" fill="#dff6e7"/>
<path d="M7.0,97.5 l-1.3,-1.9 a1.65,1.65 0 1 1 2.6,0 z" fill="#34c06a" stroke="#f2fbf5" stroke-width="0.3"/><circle cx="7.0" cy="95.5" r="0.8" fill="#dff6e7"/>
<path d="M24.9,100.4 l-1.3,-1.9 a1.65,1.65 0 1 1 2.6,0 z" fill="#34c06a" stroke="#f2fbf5" stroke-width="0.3"/><circle cx="24.9" cy="98.4" r="0.8" fill="#dff6e7"/>
<path d="M22.6,109.1 l-1.3,-1.9 a1.65,1.65 0 1 1 2.6,0 z" fill="#34c06a" stroke="#f2fbf5" stroke-width="0.3"/><circle cx="22.6" cy="107.1" r="0.8" fill="#dff6e7"/>
<path d="M20.1,92.0 l-1.3,-1.9 a1.65,1.65 0 1 1 2.6,0 z" fill="#34c06a" stroke="#f2fbf5" stroke-width="0.3"/><circle cx="20.1" cy="90.0" r="0.8" fill="#dff6e7"/>
<path d="M28.0,101.6 l-1.3,-1.9 a1.65,1.65 0 1 1 2.6,0 z" fill="#34c06a" stroke="#f2fbf5" stroke-width="0.3"/><circle cx="28.0" cy="99.6" r="0.8" fill="#dff6e7"/>
<path d="M2.4,100.2 l-1.3,-1.9 a1.65,1.65 0 1 1 2.6,0 z" fill="#34c06a" stroke="#f2fbf5" stroke-width="0.3"/><circle cx="2.4" cy="98.2" r="0.8" fill="#dff6e7"/>
<path d="M26.8,98.3 l-1.3,-1.9 a1.65,1.65 0 1 1 2.6,0 z" fill="#34c06a" stroke="#f2fbf5" stroke-width="0.3"/><circle cx="26.8" cy="96.3" r="0.8" fill="#dff6e7"/>
<path d="M8.1,104.8 l-1.3,-1.9 a1.65,1.65 0 1 1 2.6,0 z" fill="#34c06a" stroke="#f2fbf5" stroke-width="0.3"/><circle cx="8.1" cy="102.8" r="0.8" fill="#dff6e7"/>
<circle cx="31.1" cy="97.8" r="1.6" fill="#f59b2c"/><circle cx="31.1" cy="97.8" r="0.7" fill="#fde3c4"/>
<path d="M22.0,101.1 l-1.3,-1.9 a1.65,1.65 0 1 1 2.6,0 z" fill="#34c06a" stroke="#f2fbf5" stroke-width="0.3"/><circle cx="22.0" cy="99.1" r="0.8" fill="#dff6e7"/>
<path d="M26.3,107.4 l-1.3,-1.9 a1.65,1.65 0 1 1 2.6,0 z" fill="#34c06a" stroke="#f2fbf5" stroke-width="0.3"/><circle cx="26.3" cy="105.4" r="0.8" fill="#dff6e7"/>
<circle cx="11.8" cy="88.7" r="1.6" fill="#f59b2c"/><circle cx="11.8" cy="88.7" r="0.7" fill="#fde3c4"/>
<circle cx="19.2" cy="93.9" r="1.6" fill="#f59b2c"/><circle cx="19.2" cy="93.9" r="0.7" fill="#fde3c4"/>
<path d="M36.1,18.9 l-1.3,-1.9 a1.65,1.65 0 1 1 2.6,0 z" fill="#34c06a" stroke="#f2fbf5" stroke-width="0.3"/><circle cx="36.1" cy="16.9" r="0.8" fill="#dff6e7"/>
<path d="M42.5,9.1 l-1.3,-1.9 a1.65,1.65 0 1 1 2.6,0 z" fill="#34c06a" stroke="#f2fbf5" stroke-width="0.3"/><circle cx="42.5" cy="7.1" r="0.8" fill="#dff6e7"/>
<circle cx="43.2" cy="17.2" r="1.6" fill="#f59b2c"/><circle cx="43.2" cy="17.2" r="0.7" fill="#fde3c4"/>
<circle cx="45.1" cy="4.8" r="1.6" fill="#f59b2c"/><circle cx="45.1" cy="4.8" r="0.7" fill="#fde3c4"/>
<path d="M48.3,8.8 l-1.3,-1.9 a1.65,1.65 0 1 1 2.6,0 z" fill="#34c06a" stroke="#f2fbf5" stroke-width="0.3"/><circle cx="48.3" cy="6.8" r="0.8" fill="#dff6e7"/>
<path d="M46.9,13.5 l-1.3,-1.9 a1.65,1.65 0 1 1 2.6,0 z" fill="#34c06a" stroke="#f2fbf5" stroke-width="0.3"/><circle cx="46.9" cy="11.5" r="0.8" fill="#dff6e7"/>
<path d="M37.9,8.8 l-1.3,-1.9 a1.65,1.65 0 1 1 2.6,0 z" fill="#34c06a" stroke="#f2fbf5" stroke-width="0.3"/><circle cx="37.9" cy="6.8" r="0.8" fill="#dff6e7"/>
<path d="M44.0,6.0 l-1.3,-1.9 a1.65,1.65 0 1 1 2.6,0 z" fill="#34c06a" stroke="#f2fbf5" stroke-width="0.3"/><circle cx="44.0" cy="4.0" r="0.8" fill="#dff6e7"/>
<path d="M44.2,8.3 l-1.3,-1.9 a1.65,1.65 0 1 1 2.6,0 z" fill="#34c06a" stroke="#f2fbf5" stroke-width="0.3"/><circle cx="44.2" cy="6.3" r="0.8" fill="#dff6e7"/>
<path d="M47.3,18.1 l-1.3,-1.9 a1.65,1.65 0 1 1 2.6,0 z" fill="#34c06a" stroke="#f2fbf5" stroke-width="0.3"/><circle cx="47.3" cy="16.1" r="0.8" fill="#dff6e7"/>
<path d="M41.9,18.1 l-1.3,-1.9 a1.65,1.65 0 1 1 2.6,0 z" fill="#34c06a" stroke="#f2fbf5" stroke-width="0.3"/><circle cx="41.9" cy="16.1" r="0.8" fill="#dff6e7"/>
<path d="M42.3,20.7 l-1.3,-1.9 a1.65,1.65 0 1 1 2.6,0 z" fill="#34c06a" stroke="#f2fbf5" stroke-width="0.3"/><circle cx="42.3" cy="18.7" r="0.8" fill="#dff6e7"/>
<path d="M36.9,17.3 l-1.3,-1.9 a1.65,1.65 0 1 1 2.6,0 z" fill="#34c06a" stroke="#f2fbf5" stroke-width="0.3"/><circle cx="36.9" cy="15.3" r="0.8" fill="#dff6e7"/>
<circle cx="38.7" cy="16.0" r="1.6" fill="#f59b2c"/><circle cx="38.7" cy="16.0" r="0.7" fill="#fde3c4"/>
<path d="M49.7,20.5 l-1.3,-1.9 a1.65,1.65 0 1 1 2.6,0 z" fill="#34c06a" stroke="#f2fbf5" stroke-width="0.3"/><circle cx="49.7" cy="18.5" r="0.8" fill="#dff6e7"/>
<path d="M48.8,21.6 l-1.3,-1.9 a1.65,1.65 0 1 1 2.6,0 z" fill="#34c06a" stroke="#f2fbf5" stroke-width="0.3"/><circle cx="48.8" cy="19.6" r="0.8" fill="#dff6e7"/>
<path d="M45.7,19.8 l-1.3,-1.9 a1.65,1.65 0 1 1 2.6,0 z" fill="#34c06a" stroke="#f2fbf5" stroke-width="0.3"/><circle cx="45.7" cy="17.8" r="0.8" fill="#dff6e7"/>
<path d="M50.0,17.3 l-1.3,-1.9 a1.65,1.65 0 1 1 2.6,0 z" fill="#34c06a" stroke="#f2fbf5" stroke-width="0.3"/><circle cx="50.0" cy="15.3" r="0.8" fill="#dff6e7"/>
<path d="M43.2,12.8 l-1.3,-1.9 a1.65,1.65 0 1 1 2.6,0 z" fill="#34c06a" stroke="#f2fbf5" stroke-width="0.3"/><circle cx="43.2" cy="10.8" r="0.8" fill="#dff6e7"/>
<path d="M52.8,17.8 l-1.3,-1.9 a1.65,1.65 0 1 1 2.6,0 z" fill="#34c06a" stroke="#f2fbf5" stroke-width="0.3"/><circle cx="52.8" cy="15.8" r="0.8" fill="#dff6e7"/>
<path d="M36.8,19.3 l-1.3,-1.9 a1.65,1.65 0 1 1 2.6,0 z" fill="#34c06a" stroke="#f2fbf5" stroke-width="0.3"/><circle cx="36.8" cy="17.3" r="0.8" fill="#dff6e7"/>
<circle cx="39.6" cy="21.6" r="1.6" fill="#f59b2c"/><circle cx="39.6" cy="21.6" r="0.7" fill="#fde3c4"/>
<path d="M17.0,36.3 l-1.3,-1.9 a1.65,1.65 0 1 1 2.6,0 z" fill="#34c06a" stroke="#f2fbf5" stroke-width="0.3"/><circle cx="17.0" cy="34.3" r="0.8" fill="#dff6e7"/>
<path d="M15.0,41.1 l-1.3,-1.9 a1.65,1.65 0 1 1 2.6,0 z" fill="#34c06a" stroke="#f2fbf5" stroke-width="0.3"/><circle cx="15.0" cy="39.1" r="0.8" fill="#dff6e7"/>
<path d="M11.7,32.0 l-1.3,-1.9 a1.65,1.65 0 1 1 2.6,0 z" fill="#34c06a" stroke="#f2fbf5" stroke-width="0.3"/><circle cx="11.7" cy="30.0" r="0.8" fill="#dff6e7"/>
<circle cx="20.3" cy="32.6" r="1.6" fill="#f59b2c"/><circle cx="20.3" cy="32.6" r="0.7" fill="#fde3c4"/>
<path d="M13.0,30.8 l-1.3,-1.9 a1.65,1.65 0 1 1 2.6,0 z" fill="#34c06a" stroke="#f2fbf5" stroke-width="0.3"/><circle cx="13.0" cy="28.8" r="0.8" fill="#dff6e7"/>
<path d="M10.7,45.1 l-1.3,-1.9 a1.65,1.65 0 1 1 2.6,0 z" fill="#34c06a" stroke="#f2fbf5" stroke-width="0.3"/><circle cx="10.7" cy="43.1" r="0.8" fill="#dff6e7"/>
<path d="M14.3,46.7 l-1.3,-1.9 a1.65,1.65 0 1 1 2.6,0 z" fill="#34c06a" stroke="#f2fbf5" stroke-width="0.3"/><circle cx="14.3" cy="44.7" r="0.8" fill="#dff6e7"/>
<path d="M9.5,36.9 l-1.3,-1.9 a1.65,1.65 0 1 1 2.6,0 z" fill="#34c06a" stroke="#f2fbf5" stroke-width="0.3"/><circle cx="9.5" cy="34.9" r="0.8" fill="#dff6e7"/>
<path d="M15.9,42.4 l-1.3,-1.9 a1.65,1.65 0 1 1 2.6,0 z" fill="#34c06a" stroke="#f2fbf5" stroke-width="0.3"/><circle cx="15.9" cy="40.4" r="0.8" fill="#dff6e7"/>
<circle cx="7.7" cy="38.4" r="1.6" fill="#f59b2c"/><circle cx="7.7" cy="38.4" r="0.7" fill="#fde3c4"/>
<circle cx="15.5" cy="41.0" r="1.6" fill="#f59b2c"/><circle cx="15.5" cy="41.0" r="0.7" fill="#fde3c4"/>
<path d="M13.2,40.6 l-1.3,-1.9 a1.65,1.65 0 1 1 2.6,0 z" fill="#34c06a" stroke="#f2fbf5" stroke-width="0.3"/><circle cx="13.2" cy="38.6" r="0.8" fill="#dff6e7"/>
<path d="M13.0,33.4 l-1.3,-1.9 a1.65,1.65 0 1 1 2.6,0 z" fill="#34c06a" stroke="#f2fbf5" stroke-width="0.3"/><circle cx="13.0" cy="31.4" r="0.8" fill="#dff6e7"/>
<path d="M9.2,36.6 l-1.3,-1.9 a1.65,1.65 0 1 1 2.6,0 z" fill="#34c06a" stroke="#f2fbf5" stroke-width="0.3"/><circle cx="9.2" cy="34.6" r="0.8" fill="#dff6e7"/>
<path d="M14.7,44.8 l-1.3,-1.9 a1.65,1.65 0 1 1 2.6,0 z" fill="#34c06a" stroke="#f2fbf5" stroke-width="0.3"/><circle cx="14.7" cy="42.8" r="0.8" fill="#dff6e7"/>
<path d="M7.2,37.2 l-1.3,-1.9 a1.65,1.65 0 1 1 2.6,0 z" fill="#34c06a" stroke="#f2fbf5" stroke-width="0.3"/><circle cx="7.2" cy="35.2" r="0.8" fill="#dff6e7"/>
<path d="M16.8,46.0 l-1.3,-1.9 a1.65,1.65 0 1 1 2.6,0 z" fill="#34c06a" stroke="#f2fbf5" stroke-width="0.3"/><circle cx="16.8" cy="44.0" r="0.8" fill="#dff6e7"/>
<path d="M21.6,37.7 l-1.3,-1.9 a1.65,1.65 0 1 1 2.6,0 z" fill="#34c06a" stroke="#f2fbf5" stroke-width="0.3"/><circle cx="21.6" cy="35.7" r="0.8" fill="#dff6e7"/>
<path d="M20.2,35.1 l-1.3,-1.9 a1.65,1.65 0 1 1 2.6,0 z" fill="#34c06a" stroke="#f2fbf5" stroke-width="0.3"/><circle cx="20.2" cy="33.1" r="0.8" fill="#dff6e7"/>
<path d="M21.2,39.0 l-1.3,-1.9 a1.65,1.65 0 1 1 2.6,0 z" fill="#34c06a" stroke="#f2fbf5" stroke-width="0.3"/><circle cx="21.2" cy="37.0" r="0.8" fill="#dff6e7"/>
<path d="M14.6,34.5 l-1.3,-1.9 a1.65,1.65 0 1 1 2.6,0 z" fill="#34c06a" stroke="#f2fbf5" stroke-width="0.3"/><circle cx="14.6" cy="32.5" r="0.8" fill="#dff6e7"/>
<path d="M8.2,38.6 l-1.3,-1.9 a1.65,1.65 0 1 1 2.6,0 z" fill="#34c06a" stroke="#f2fbf5" stroke-width="0.3"/><circle cx="8.2" cy="36.6" r="0.8" fill="#dff6e7"/>
<path d="M36.2,107.4 l-1.3,-1.9 a1.65,1.65 0 1 1 2.6,0 z" fill="#34c06a" stroke="#f2fbf5" stroke-width="0.3"/><circle cx="36.2" cy="105.4" r="0.8" fill="#dff6e7"/>
<path d="M42.3,103.6 l-1.3,-1.9 a1.65,1.65 0 1 1 2.6,0 z" fill="#34c06a" stroke="#f2fbf5" stroke-width="0.3"/><circle cx="42.3" cy="101.6" r="0.8" fill="#dff6e7"/>
<path d="M44.0,103.1 l-1.3,-1.9 a1.65,1.65 0 1 1 2.6,0 z" fill="#34c06a" stroke="#f2fbf5" stroke-width="0.3"/><circle cx="44.0" cy="101.1" r="0.8" fill="#dff6e7"/>
<path d="M37.3,102.9 l-1.3,-1.9 a1.65,1.65 0 1 1 2.6,0 z" fill="#34c06a" stroke="#f2fbf5" stroke-width="0.3"/><circle cx="37.3" cy="100.9" r="0.8" fill="#dff6e7"/>
<path d="M30.0,103.9 l-1.3,-1.9 a1.65,1.65 0 1 1 2.6,0 z" fill="#34c06a" stroke="#f2fbf5" stroke-width="0.3"/><circle cx="30.0" cy="101.9" r="0.8" fill="#dff6e7"/>
<path d="M48.6,108.0 l-1.3,-1.9 a1.65,1.65 0 1 1 2.6,0 z" fill="#34c06a" stroke="#f2fbf5" stroke-width="0.3"/><circle cx="48.6" cy="106.0" r="0.8" fill="#dff6e7"/>
<path d="M43.1,110.3 l-1.3,-1.9 a1.65,1.65 0 1 1 2.6,0 z" fill="#34c06a" stroke="#f2fbf5" stroke-width="0.3"/><circle cx="43.1" cy="108.3" r="0.8" fill="#dff6e7"/>
<path d="M43.5,103.7 l-1.3,-1.9 a1.65,1.65 0 1 1 2.6,0 z" fill="#34c06a" stroke="#f2fbf5" stroke-width="0.3"/><circle cx="43.5" cy="101.7" r="0.8" fill="#dff6e7"/>
<path d="M45.1,110.4 l-1.3,-1.9 a1.65,1.65 0 1 1 2.6,0 z" fill="#34c06a" stroke="#f2fbf5" stroke-width="0.3"/><circle cx="45.1" cy="108.4" r="0.8" fill="#dff6e7"/>
<path d="M47.9,105.9 l-1.3,-1.9 a1.65,1.65 0 1 1 2.6,0 z" fill="#34c06a" stroke="#f2fbf5" stroke-width="0.3"/><circle cx="47.9" cy="103.9" r="0.8" fill="#dff6e7"/>
<path d="M31.2,109.7 l-1.3,-1.9 a1.65,1.65 0 1 1 2.6,0 z" fill="#34c06a" stroke="#f2fbf5" stroke-width="0.3"/><circle cx="31.2" cy="107.7" r="0.8" fill="#dff6e7"/>
<path d="M34.8,107.7 l-1.3,-1.9 a1.65,1.65 0 1 1 2.6,0 z" fill="#34c06a" stroke="#f2fbf5" stroke-width="0.3"/><circle cx="34.8" cy="105.7" r="0.8" fill="#dff6e7"/>
<path d="M29.2,102.7 l-1.3,-1.9 a1.65,1.65 0 1 1 2.6,0 z" fill="#34c06a" stroke="#f2fbf5" stroke-width="0.3"/><circle cx="29.2" cy="100.7" r="0.8" fill="#dff6e7"/>
<path d="M30.7,106.9 l-1.3,-1.9 a1.65,1.65 0 1 1 2.6,0 z" fill="#34c06a" stroke="#f2fbf5" stroke-width="0.3"/><circle cx="30.7" cy="104.9" r="0.8" fill="#dff6e7"/>
<path d="M40.4,100.1 l-1.3,-1.9 a1.65,1.65 0 1 1 2.6,0 z" fill="#34c06a" stroke="#f2fbf5" stroke-width="0.3"/><circle cx="40.4" cy="98.1" r="0.8" fill="#dff6e7"/>
<path d="M42.5,105.8 l-1.3,-1.9 a1.65,1.65 0 1 1 2.6,0 z" fill="#34c06a" stroke="#f2fbf5" stroke-width="0.3"/><circle cx="42.5" cy="103.8" r="0.8" fill="#dff6e7"/>
<circle cx="38.4" cy="98.5" r="1.6" fill="#f59b2c"/><circle cx="38.4" cy="98.5" r="0.7" fill="#fde3c4"/>
<path d="M45.8,103.2 l-1.3,-1.9 a1.65,1.65 0 1 1 2.6,0 z" fill="#34c06a" stroke="#f2fbf5" stroke-width="0.3"/><circle cx="45.8" cy="101.2" r="0.8" fill="#dff6e7"/>
<path d="M31.3,101.8 l-1.3,-1.9 a1.65,1.65 0 1 1 2.6,0 z" fill="#34c06a" stroke="#f2fbf5" stroke-width="0.3"/><circle cx="31.3" cy="99.8" r="0.8" fill="#dff6e7"/>
<path d="M42.2,109.0 l-1.3,-1.9 a1.65,1.65 0 1 1 2.6,0 z" fill="#34c06a" stroke="#f2fbf5" stroke-width="0.3"/><circle cx="42.2" cy="107.0" r="0.8" fill="#dff6e7"/>
<path d="M46.5,106.7 l-1.3,-1.9 a1.65,1.65 0 1 1 2.6,0 z" fill="#34c06a" stroke="#f2fbf5" stroke-width="0.3"/><circle cx="46.5" cy="104.7" r="0.8" fill="#dff6e7"/>
<path d="M43.6,108.4 l-1.3,-1.9 a1.65,1.65 0 1 1 2.6,0 z" fill="#34c06a" stroke="#f2fbf5" stroke-width="0.3"/><circle cx="43.6" cy="106.4" r="0.8" fill="#dff6e7"/>
<path d="M35.8,107.7 l-1.3,-1.9 a1.65,1.65 0 1 1 2.6,0 z" fill="#34c06a" stroke="#f2fbf5" stroke-width="0.3"/><circle cx="35.8" cy="105.7" r="0.8" fill="#dff6e7"/>
<path d="M38.4,111.6 l-1.3,-1.9 a1.65,1.65 0 1 1 2.6,0 z" fill="#34c06a" stroke="#f2fbf5" stroke-width="0.3"/><circle cx="38.4" cy="109.6" r="0.8" fill="#dff6e7"/>
<path d="M26,59 l-1.6,2.6 a2,2 0 1 0 3.2,0 z" fill="#1f8ff0"/><circle cx="26" cy="61.6" r="2.4" fill="#1f8ff0"/><circle cx="26" cy="61.6" r="0.8" fill="#fff"/>
<rect x="1" y="2" width="14" height="5" rx="1" fill="#fff"/><rect x="2" y="3.5" width="4" height="1.2" fill="#2a8"/>
<rect x="38" y="106" width="11" height="4.5" rx="2.2" fill="#1e9bf0"/>
<rect x="36" y="99" width="5" height="3" rx="1.5" fill="#1e9bf0"/>
<rect x="0" y="111.5" width="52" height="6.5" fill="#e6e7e4"/><rect x="2" y="114" width="24" height="1.2" fill="#555"/>
<rect x="0" y="118" width="52" height="16" fill="#fff"/>
<circle cx="6" cy="122.5" r="1.5" fill="#999"/><rect x="4" y="125.5" width="4" height="0.7" fill="#bbb"/>
<circle cx="19" cy="122.5" r="1.5" fill="#1e8ff0"/><rect x="17" y="125.5" width="4" height="0.7" fill="#bbb"/>
<circle cx="32" cy="122.5" r="1.5" fill="#999"/><rect x="30" y="125.5" width="4" height="0.7" fill="#bbb"/>
<circle cx="45" cy="122.5" r="1.5" fill="#999"/><rect x="43" y="125.5" width="4" height="0.7" fill="#bbb"/>
<rect x="13.5" y="-1" width="25" height="5.2" rx="2.6" fill="#e2e3e5"/>
</g></g>
</defs>
<defs>
<g id="wheel">
<circle r="152" fill="#0c1233"/>
<circle r="98" fill="#6b9ae6"/>
<circle r="55" fill="#86b0f0"/>
</g>
<g id="scooter">
<use href="#wheel" x="355" y="870"/>
<use href="#wheel" x="1330" y="880"/>
<!-- rear rack -->
<path d="M185,430 L225,400 L420,395 L455,430 L440,470 L260,505 L205,470 Z" fill="#2b88df"/>
<!-- mint body -->
<path d="M190,520 C300,455 500,440 620,480 L660,540 C680,620 700,700 745,738 L1080,738 C1115,700 1108,420 1100,285 L1222,292 C1232,400 1262,550 1300,640 L1210,800 L1150,832 L190,832 Z" fill="#8ee1ea"/>
<!-- floorboard & column edge -->
<path d="M660,728 L1075,738 C1105,735 1112,700 1108,600 L1100,290 L1125,290 L1135,610 C1140,730 1110,770 1070,772 L665,765 Z" fill="#2d87dc"/>
<!-- side cover -->
<path d="M130,740 C130,600 250,530 400,530 C520,530 620,600 625,700 L625,825 L190,825 C150,805 130,780 130,740 Z" fill="#0fbcf6"/>
<g stroke="#0a98d4" stroke-width="9"><line x1="285" y1="640" x2="490" y2="640"/><line x1="285" y1="680" x2="490" y2="680"/><line x1="285" y1="718" x2="490" y2="718"/></g>
<!-- tail light -->
<rect x="108" y="553" width="18" height="108" fill="#e54b4b"/>
<path d="M125,540 C160,540 185,570 185,600 C185,635 160,665 125,665 Z" fill="#22aaf0"/>
<!-- seat -->
<path d="M450,345 C455,292 560,285 650,300 C740,312 772,330 766,385 L755,425 L455,405 Z" fill="#8ecaf8"/>
<path d="M452,385 L762,412 L752,458 C650,462 520,445 455,425 Z" fill="#3d3042"/>
<!-- front leg shield -->
<path d="M1225,420 C1265,430 1300,520 1310,640 L1270,660 C1255,560 1240,480 1222,440 Z" fill="#2a7fd0"/>
<!-- basket -->
<g>
<rect x="1300" y="440" width="125" height="195" fill="#ffffff" fill-opacity="0.3"/>
<g stroke="#1a2a4a" stroke-width="9">
<line x1="1300" y1="490" x2="1425" y2="490"/><line x1="1300" y1="540" x2="1425" y2="540"/><line x1="1300" y1="590" x2="1425" y2="590"/>
<line x1="1330" y1="440" x2="1330" y2="635"/><line x1="1365" y1="440" x2="1365" y2="635"/><line x1="1400" y1="440" x2="1400" y2="635"/>
</g>
<rect x="1295" y="440" width="135" height="12" fill="#1a2a4a"/>
</g>
<!-- front fender -->
<path d="M1180,870 C1180,745 1262,680 1362,672 L1422,690 L1422,800 C1330,812 1250,842 1180,885 Z" fill="#17b8f5"/>
<path d="M1180,870 C1250,830 1330,800 1422,790 L1422,810 C1330,818 1250,850 1180,890 Z" fill="#1590dd"/>
<!-- handlebar / head -->
<rect x="1095" y="270" width="130" height="30" rx="8" fill="#2d87dc"/>
<rect x="1130" y="185" width="40" height="95" fill="#2a7fd0"/>
<path d="M1085,150 C1090,125 1130,120 1150,135 L1190,140 L1195,195 L1130,200 C1100,195 1082,175 1085,150 Z" fill="#2f86da"/>
<circle cx="1112" cy="157" r="14" fill="#fff"/>
<path d="M1222,245 C1260,230 1330,250 1350,290 L1300,320 L1225,305 Z" fill="#39a7f0"/>
<rect x="1287" y="318" width="22" height="85" fill="#f3e21c"/>
</g>
</defs>

<!-- ============ PLATFORMS ============ -->
<defs><filter id="pshadow" x="-10%" y="-30%" width="120%" height="160%"><feGaussianBlur stdDeviation="6"/></filter></defs>
<g id="p1">
<polygon points="377.5,280.8 552.4,376.6 897.2,240.8 897.2,260.5 552.4,399.5 377.5,302.6" fill="#e1e4e7"/>
<polygon points="377.5,280.8 722.7,143.6 897.2,240.8 552.4,376.6" fill="#eeeff1"/>
</g>
<g id="p2">
<polygon points="1027.4,283.5 1202,379.8 1547,242.7 1547,264.5 1202,401.40000000000003 1027.4,304.3" fill="#e1e4e7"/>
<polygon points="1027.4,283.5 1372.4,146.4 1547,242.7 1202,379.8" fill="#eeeff1"/>
</g>
<g id="p3">
<polygon points="180.7,620 354.7,715.5 700.5,580.3 700.5,602.5 354.7,738.0 180.7,641.3" fill="#e1e4e7"/>
<polygon points="180.7,620 525.5,484.2 700.5,580.3 354.7,715.5" fill="#eeeff1"/>
</g>
<g id="p4">
<polygon points="448.3,777.5 690.4,915.8 1705.5,498 1705.5,518.3 690.4,938.5 448.3,797.9" fill="#e1e4e7"/>
<polygon points="448.3,777.5 1466,366.5 1705.5,498 690.4,915.8" fill="#eeeff1"/>
</g>
<!-- circles -->
<g fill="none" stroke="#e1e4e8" stroke-width="4">
<ellipse cx="705.9" cy="228.1" rx="77.3" ry="53"/>
<ellipse cx="1342.6" cy="239.4" rx="98.2" ry="52"/>
<ellipse cx="510.7" cy="570.7" rx="77.7" ry="51.7"/>
<ellipse cx="757.1" cy="751.4" rx="88.8" ry="51.3"/>
<ellipse cx="992.2" cy="656.3" rx="88.9" ry="51.8"/>
<ellipse cx="1226.6" cy="563" rx="88" ry="52" stroke-width="6" stroke="#e2e5e9"/>
<ellipse cx="1450.6" cy="473.6" rx="89" ry="51"/>
</g>

<g id="labels">
<text transform="matrix(0.7183 -0.2829 0.8794 0.4814 492.8 311.0)" font-size="31.0" fill="#0bbaf5" stroke="#0bbaf5" stroke-width="0.4" font-weight="700">用户端</text>
<text transform="matrix(0.7183 -0.2829 0.8794 0.4814 533.6 331.2)" font-size="26.5" fill="#14284f" font-weight="400">这锂换电APP</text>
<text transform="matrix(0.7183 -0.2829 0.8794 0.4814 1143.4 313.6)" font-size="31.4" fill="#0bbaf5" stroke="#0bbaf5" stroke-width="0.4" font-weight="700">商家端</text>
<text transform="matrix(0.7183 -0.2829 0.8794 0.4814 1182.4 332.1)" font-size="27" fill="#14284f" font-weight="400">APP<tspan dx="2.5">/PC</tspan></text>
<text transform="matrix(0.7183 -0.2829 0.8794 0.4814 296.0 649.7)" font-size="30.7" fill="#0bbaf5" stroke="#0bbaf5" stroke-width="0.4" font-weight="700">运营端</text>
<text transform="matrix(0.7183 -0.2829 0.8794 0.4814 335.8 670.3)" font-size="26.6" fill="#14284f" font-weight="400">这锂运营APP</text>
<text transform="matrix(0.7183 -0.2829 0.8794 0.4814 613.1 836.1)" font-size="31.7" fill="#0bbaf5" stroke="#0bbaf5" stroke-width="0.4" font-weight="700">场景</text>
<text transform="matrix(0.7183 -0.2829 0.8794 0.4814 795.4 829.7)" font-size="28.8" fill="#14284f" font-weight="400">智能换电</text>
<text transform="matrix(0.7183 -0.2829 0.8794 0.4814 1038.6 731.0)" font-size="28.8" fill="#14284f" font-weight="400">智能充电</text>
<text transform="matrix(0.7183 -0.2829 0.8794 0.4814 1251.6 642.4)" font-size="28.6" fill="#14284f" font-weight="400">这锂锂电池</text>
<text transform="matrix(0.7183 -0.2829 0.8794 0.4814 1488.4 550.6)" font-size="28.9" fill="#14284f" font-weight="400">共享电单</text>
</g>
<g id="cloudg">
<use href="#cloud" transform="matrix(0.985 0 0 1 19.0 58)" fill="#dff1fc"/>
<g transform="matrix(0.985 0 0 1 19.0 0)"><path d="M730.4,444.6 C730.4,454.0 733.0,463.0 740.0,472.0 C750.0,485.0 770.0,495.0 791.0,497.0 C800.0,498.0 815.0,496.0 830.0,490.6 L1012.5,415.6 C1026.0,410.0 1035.4,401.0 1035.4,390.0 L1035.4,428.0 C1035.4,439.0 1026.0,448.0 1012.5,453.6 L830.0,528.6 C815.0,534.0 800.0,536.0 791.0,535.0 C770.0,533.0 750.0,523.0 740.0,510.0 C733.0,501.0 730.4,492.0 730.4,482.6 Z" fill="#dff1fc"/></g>
<use href="#cloud" transform="matrix(0.985 0 0 1 19.0 37)" fill="#a2d9f5"/>
<g transform="matrix(0.985 0 0 1 19.0 0)"><path d="M730.4,434.6 C730.4,444.0 733.0,453.0 740.0,462.0 C750.0,475.0 770.0,485.0 791.0,487.0 C800.0,488.0 815.0,486.0 830.0,480.6 L1012.5,405.6 C1026.0,400.0 1035.4,391.0 1035.4,380.0 L1035.4,407.0 C1035.4,418.0 1026.0,427.0 1012.5,432.6 L830.0,507.6 C815.0,513.0 800.0,515.0 791.0,514.0 C770.0,512.0 750.0,502.0 740.0,489.0 C733.0,480.0 730.4,471.0 730.4,461.6 Z" fill="#a2d9f5"/></g>
<path d="M758.6,362 C754,366 751,372 750.6,379 C750.5,382 751,384 752,385.5 L759.5,381 Z" fill="#aee0f6"/>
<use href="#cloud" x="0" y="17.5" fill="#0585cc"/>
<path d="M730.4,424.6 C730.4,434.0 733.0,443.0 740.0,452.0 C750.0,465.0 770.0,475.0 791.0,477.0 C800.0,478.0 815.0,476.0 830.0,470.6 L1012.5,395.6 C1026.0,390.0 1035.4,381.0 1035.4,370.0 L1035.4,387.5 C1035.4,398.5 1026.0,407.5 1012.5,413.1 L830.0,488.1 C815.0,493.5 800.0,495.5 791.0,494.5 C770.0,492.5 750.0,482.5 740.0,469.5 C733.0,460.5 730.4,451.5 730.4,442.1 Z" fill="#0585cc"/>
<use href="#cloud" fill="#04a0e8"/>
<text transform="matrix(0.7183 -0.2829 0.8794 0.4814 806.6 395)" font-size="38.5" fill="#fff" stroke="#fff" stroke-width="1.3" font-weight="700">宇谷科技</text>
<text transform="matrix(0.7183 -0.2829 0.8794 0.4814 795.1 440.6)" font-size="38.5" fill="#fff" stroke="#fff" stroke-width="1.3" font-weight="700">AI出行解决方案</text>
</g>
<!-- ============ ARROWS ============ -->
<g fill="none" stroke="#3cc6f5" stroke-width="1.3" stroke-dasharray="4 2.5">
<polyline points="764.4,334.7 749.9,326.9 748.6,326.9 748.6,342.2 726.6,328.9"/>
<polyline points="1030,345.3 1063.1,332.8 1064,332.8 1064,359.7 1066.3,358.4 1107.5,343.1"/>
<polyline points="734.4,448.8 689.6,467.1 689.6,497.7 621.9,523.1"/>
<polyline points="918.3,453.9 957.2,482.2 957.2,511 998.8,540.5"/>
</g>
<g fill="#0cbcf5">
<polygon points="713.9,322.2 727.7,326.4 719.4,330"/>
<polygon points="1121.6,339 1106.3,341.6 1113.8,345.9"/>
<polygon points="609.2,527.7 615.8,521.1 624.4,526.7"/>
<polygon points="1009.9,546.6 995.5,543.8 1004.9,540.5"/>
</g>
<!-- phones -->
<g transform="matrix(0.985 -0.325 0 1 686.2 116.6)"><use href="#phoneBody"/><use href="#appScreen"/></g>
<g transform="matrix(0.567 -0.252 0 0.683 1280.6 177.3)"><use href="#phoneBody"/><use href="#appScreen"/></g>
<g transform="matrix(0.987 -0.344 0 0.99 490.4 455.8)"><use href="#phoneBody"/><use href="#mapScreen"/></g>

<!-- monitor -->
<g id="monitor">
<!-- stand -->
<polygon points="1365,212 1382.5,205 1382.5,226 1365,229" fill="#c9cacc"/>
<polygon points="1367,214 1381,208 1381,225 1367,228" fill="#e2e3e5"/>
<polygon points="1360.5,231.5 1377,224.5 1387,228.5 1370,236.5" fill="#d4d5d7"/>
<polygon points="1360.5,231.5 1370,236.5 1370,238 1360.5,233" fill="#b8b9bb"/>
<g transform="matrix(1 -0.46 0 1 1328 154.3)">
<rect x="-4.4" y="-3" width="95.8" height="84.2" rx="2.4" fill="#a4a5a8"/>
<rect x="-4.4" y="-3" width="95.8" height="3" rx="1.2" fill="#5d5e61"/>
<rect x="-2.6" y="-2" width="93.8" height="82.8" rx="2" fill="#141518"/>
<rect x="-2.6" y="72.4" width="93.8" height="8.6" rx="1.5" fill="#d9dadc"/>
<rect x="-2.6" y="72.4" width="93.8" height="2.2" fill="#c7c8ca"/>
<path d="M44.2,75.2 c-0.8,0 -1.3,0.9 -1.3,1.8 c0,1.1 0.7,2.2 1.3,2.2 c0.6,0 0.6,-0.3 1.2,-0.3 c0.5,0 0.6,0.3 1.1,0.3 c0.6,0 1.2,-1.1 1.2,-2 c-0.6,-0.3 -0.8,-1.6 0,-2 c-0.4,-0.5 -0.9,-0.6 -1.3,-0.6 c-0.5,0 -0.8,0.3 -1.1,0.3 c-0.3,0 -0.6,-0.3 -1.1,-0.3z M45.6,74.4 c0.3,-0.4 0.5,-0.9 0.4,-1.3 c-0.4,0 -0.9,0.3 -1.1,0.7 c-0.2,0.3 -0.4,0.8 -0.3,1.2 c0.4,0 0.8,-0.2 1,-0.6z" fill="#2b2b2d"/>
<rect x="0" y="0" width="90.6" height="72.4" fill="#070f26"/>
<rect x="0" y="0" width="90.6" height="3" fill="#05070f"/>
<rect x="0" y="3" width="90.6" height="5" fill="#171a3a"/><rect x="0" y="8" width="90.6" height="1.5" fill="#232552" opacity="0.6"/>
<rect x="30" y="6.8" width="30" height="1.2" fill="#3b4a8a" opacity="0.8"/>
<rect x="82" y="0.8" width="5" height="3" fill="#5a5a8a"/>
<rect x="70" y="1.6" width="7" height="0.8" fill="#667"/>
<rect x="31" y="10" width="30" height="2" fill="#d8dcea"/>
<rect x="36" y="13" width="20" height="0.7" fill="#6a7ab0"/>
<rect x="79" y="10.5" width="7" height="1.6" fill="#e8e8f0"/>
<!-- left panel -->
<rect x="3" y="22" width="18" height="44" fill="none" stroke="#1d3766" stroke-width="0.6"/>
<rect x="5" y="25" width="6" height="1" fill="#cfd6ee"/>
<circle cx="12" cy="34.5" r="3.8" fill="none" stroke="#1a8fd8" stroke-width="1.1"/>
<path d="M12,30.7 a3.8,3.8 0 0 1 3.6,5" fill="none" stroke="#e0408a" stroke-width="1.1"/>
<circle cx="12" cy="34.5" r="1.4" fill="#6fd3ff" opacity="0.6"/>
<rect x="5" y="42" width="5" height="0.8" fill="#aab"/><rect x="13" y="42" width="5" height="0.8" fill="#aab"/>
<rect x="5" y="47" width="6" height="0.9" fill="#cfd6ee"/>
<rect x="5" y="50" width="12" height="1" fill="#3fa0ff"/>
<rect x="5" y="52" width="10" height="1" fill="#e050b0"/>
<rect x="5" y="54" width="13" height="1" fill="#6a5cff"/>
<rect x="5" y="58" width="4" height="0.8" fill="#99a"/><rect x="11" y="58" width="4" height="0.8" fill="#99a"/>
<!-- middle text -->
<rect x="24" y="22" width="12" height="1.3" fill="#cfd6ee"/>
<rect x="37.5" y="22" width="6" height="1.3" fill="#29c5e6"/>
<rect x="24" y="25" width="8" height="0.7" fill="#667"/>
<rect x="24" y="45" width="10" height="0.6" fill="#556"/><rect x="24" y="48" width="10" height="0.6" fill="#556"/><rect x="24" y="51" width="10" height="0.6" fill="#556"/>
<rect x="36" y="45" width="4" height="0.6" fill="#556"/><rect x="36" y="48" width="4" height="0.6" fill="#556"/><rect x="36" y="51" width="4" height="0.6" fill="#556"/>
<!-- map -->
<defs><radialGradient id="mapGlow" cx="0.5" cy="0.5" r="0.5"><stop offset="0" stop-color="#1d4a8e" stop-opacity="0.75"/><stop offset="1" stop-color="#0a1533" stop-opacity="0"/></radialGradient></defs>
<ellipse cx="50" cy="34" rx="22" ry="24" fill="url(#mapGlow)"/>
<path d="M43,14 C48,12 55,14 58,18 C61,22 59,27 62,31 C64,35 60,40 58,44 C55,50 50,52 46,50 C42,48 40,44 38,40 C36,35 39,30 38,26 C37,21 39,16 43,14 Z" fill="#0d1f47" stroke="#4a7fd0" stroke-width="0.5"/>
<path d="M50,37 L56,35 L60,34.5 L61,37 L58,39.5 L56,42 L55,46 L53.5,49 L52,53 L50.5,50 L51,46 L50.5,42 L49,40 Z" fill="#f6cf14"/>
<path d="M52.5,45 L54.5,44.5 L53.5,49 L52,53 L50.5,50 L51.5,47 Z" fill="#f08a10"/>
<circle cx="43" cy="36" r="3.5" fill="#3a8ae8" opacity="0.45"/><circle cx="57" cy="47" r="2.5" fill="#3a8ae8" opacity="0.4"/><circle cx="52" cy="16" r="2" fill="#3a8ae8" opacity="0.35"/>
<circle cx="60" cy="18" r="2" fill="#2d7ad8" opacity="0.35"/>
<!-- right panel -->
<rect x="68" y="14" width="18" height="52" fill="none" stroke="#1d3766" stroke-width="0.6"/>
<circle cx="77" cy="22" r="3.6" fill="none" stroke="#20a0e0" stroke-width="1"/>
<path d="M77,18.4 a3.6,3.6 0 0 0 -3.4,5" fill="none" stroke="#e2458e" stroke-width="1"/>
<circle cx="72.5" cy="33" r="2.8" fill="none" stroke="#1ab6d8" stroke-width="0.9"/>
<circle cx="81" cy="31" r="2.8" fill="none" stroke="#1ab6d8" stroke-width="0.9"/>
<circle cx="72.5" cy="43" r="2.8" fill="none" stroke="#1ab6d8" stroke-width="0.9"/>
<circle cx="81" cy="41" r="2.8" fill="none" stroke="#1ab6d8" stroke-width="0.9"/>
<rect x="70" y="16" width="5" height="0.8" fill="#cfd6ee"/>
</g>
</g>

<!-- scene1 -->
<defs>
<linearGradient id="cabTop1" x1="0" y1="0" x2="1" y2="1"><stop offset="0" stop-color="#8ffcfd"/><stop offset="0.6" stop-color="#6cf0fb"/><stop offset="1" stop-color="#55e6f9"/></linearGradient>
<linearGradient id="cabR1" x1="0" y1="0" x2="1" y2="0"><stop offset="0" stop-color="#3fe6fa"/><stop offset="0.18" stop-color="#78f2fc"/><stop offset="0.5" stop-color="#34e8fa"/><stop offset="1" stop-color="#1fe1f8"/></linearGradient>
<linearGradient id="door1" x1="0" y1="0" x2="0" y2="1"><stop offset="0" stop-color="#3f9ef0"/><stop offset="1" stop-color="#2fb2f4"/></linearGradient>
</defs>
<g transform="matrix(1 -0.5068 0 1 797.5 664.4)">
<rect x="-2" y="0" width="31.2" height="106" fill="url(#cabR1)"/>
<rect x="28.0" y="0" width="1.2" height="106" fill="#14cfee" opacity="0.6"/>
</g>
<g transform="matrix(1 0.5755 0 1 755.1 640)">
<rect x="0" y="0" width="42.4" height="106" fill="#1ec6f6"/>
<rect x="0" y="0" width="1.6" height="106" fill="#22d9fa"/>
<line x1="5" y1="5.5" x2="11.5" y2="7.5" stroke="#0e9fd8" stroke-width="0.7"/>
<line x1="5" y1="8.1" x2="11.5" y2="10.1" stroke="#0e9fd8" stroke-width="0.7"/>
<line x1="29" y1="5.5" x2="35.5" y2="7.5" stroke="#0e9fd8" stroke-width="0.7"/>
<line x1="29" y1="8.1" x2="35.5" y2="10.1" stroke="#0e9fd8" stroke-width="0.7"/>
<circle cx="20.1" cy="7.2" r="3.1" fill="#0b4f8f"/>
<circle cx="20.1" cy="7.2" r="2.2" fill="#0d5ea3"/>
<rect x="2.6" y="14.5" width="16.6" height="18.6" fill="url(#door1)"/>
<rect x="16.0" y="19.5" width="0.9" height="3.4" fill="#d8f3ff" opacity="0.9"/>
<rect x="2.6" y="35" width="16.6" height="18.6" fill="url(#door1)"/>
<rect x="16.0" y="40.0" width="0.9" height="3.4" fill="#d8f3ff" opacity="0.9"/>
<rect x="2.6" y="55.5" width="16.6" height="18.6" fill="url(#door1)"/>
<rect x="16.0" y="60.5" width="0.9" height="3.4" fill="#d8f3ff" opacity="0.9"/>
<rect x="2.6" y="76" width="16.6" height="18.6" fill="url(#door1)"/>
<rect x="16.0" y="81.0" width="0.9" height="3.4" fill="#d8f3ff" opacity="0.9"/>
<rect x="22.6" y="14.5" width="17.4" height="18.6" fill="url(#door1)"/>
<rect x="36.8" y="19.5" width="0.9" height="3.4" fill="#d8f3ff" opacity="0.9"/>
<rect x="22.6" y="35" width="17.4" height="18.6" fill="url(#door1)"/>
<rect x="36.8" y="40.0" width="0.9" height="3.4" fill="#d8f3ff" opacity="0.9"/>
<rect x="22.6" y="55.5" width="17.4" height="18.6" fill="url(#door1)"/>
<rect x="36.8" y="60.5" width="0.9" height="3.4" fill="#d8f3ff" opacity="0.9"/>
<rect x="22.6" y="76" width="17.4" height="18.6" fill="url(#door1)"/>
<rect x="36.8" y="81.0" width="0.9" height="3.4" fill="#d8f3ff" opacity="0.9"/>
<rect x="2.6" y="96.5" width="37.4" height="7.0" fill="url(#door1)"/>
</g>
<g transform="matrix(1 -0.5068 0 1 797.5 664.4)"><rect x="-1.5" y="0" width="3" height="106" fill="#2fdcfa" opacity="0.6"/></g>
<polygon points="755.1,640 784.3,625.2 826.7,649.6 797.5,664.4" fill="url(#cabTop1)"/>
<g transform="translate(682.6 715.4) scale(0.07049)"><use href="#scooter"/></g>
<g transform="translate(675 680) scale(0.10178)">
<!-- box -->
<rect x="50" y="335" width="325" height="270" rx="42" fill="#14b8f5"/>
<rect x="50" y="560" width="325" height="45" rx="20" fill="#10a6e8"/>
<rect x="125" y="410" width="180" height="130" fill="#80dde6"/>
<!-- pants -->
<path d="M430,480 L610,495 C690,515 735,545 722,610 L685,775 L618,768 L650,615 L490,605 C435,595 418,540 430,480 Z" fill="#2b2b2d"/>
<path d="M470,545 C500,540 520,525 530,505" stroke="#fff" stroke-width="9" fill="none"/>
<path d="M618,765 L685,772 L680,805 L612,800 Z" fill="#f6d3bd"/>
<path d="M600,800 L690,792 C730,812 765,838 765,872 L598,872 Z" fill="#4a8ff0"/>
<rect x="598" y="858" width="167" height="14" fill="#6f7d9a"/>
<!-- torso -->
<path d="M485,238 C545,228 592,252 605,300 L615,385 L605,505 L428,500 C418,420 428,300 485,238 Z" fill="#3590e2"/>
<path d="M520,300 C600,390 690,450 800,470 L805,510 C690,500 580,430 500,350 Z" fill="#2f86da"/>
<circle cx="828" cy="487" r="30" fill="#f6d3bd"/>
<circle cx="828" cy="487" r="12" fill="#fff"/>
<!-- neck/face -->
<path d="M590,200 L650,200 L660,260 C640,262 610,255 595,245 Z" fill="#f6d3bd"/>
<path d="M600,150 L668,150 L672,245 C650,258 615,255 600,240 Z" fill="#f6d3bd"/>
<!-- helmet -->
<path d="M500,130 C500,75 545,45 600,45 C655,45 695,85 695,140 L695,160 L640,150 L620,215 C570,220 520,195 505,170 Z" fill="#1b7fc1"/>
<path d="M640,150 L700,150 C712,185 710,225 690,240 L650,240 Z" fill="#cfe9f3" opacity="0.75"/>
<circle cx="585" cy="165" r="13" fill="#fff"/>
</g>

<!-- scene2 scooter -->
<g transform="translate(910 590) scale(0.07398)"><use href="#scooter"/></g>

<!-- scene2 extras: charger, rail, cable, man -->
<g transform="translate(965 555) scale(0.12948)">
<!-- floor mat -->
<polygon points="335,925 425,872 615,962 522,1018" fill="#0c1233"/>
<!-- charger box -->
<polygon points="270,70 330,36 440,98 380,132" fill="#f2f2f2"/>
<polygon points="270,70 380,132 380,300 270,236" fill="#e6e6e6"/>
<polygon points="340,110 380,132 380,300 340,276" fill="#121212"/>
<polygon points="380,132 440,98 440,262 380,300" fill="#a9a9ab"/>
<polygon points="380,132 440,98 440,130 380,165" fill="#c8c8ca"/>
<g stroke="#b9b9bb" stroke-width="9"><line x1="285" y1="100" x2="325" y2="123"/><line x1="285" y1="130" x2="325" y2="153"/><line x1="285" y1="160" x2="325" y2="183"/><line x1="285" y1="190" x2="325" y2="213"/></g>
<polygon points="280,230 420,305 420,320 280,245" fill="#222" opacity="0.85"/>
<!-- rail line -->
<line x1="62" y1="155" x2="965" y2="648" stroke="#2c2c2c" stroke-width="6"/>
<g fill="#fafafa" stroke="#9a9a9a" stroke-width="3">
<path d="M150,150 L185,140 L190,180 L155,195 Z"/>
<path d="M530,350 L565,340 L570,380 L535,395 Z"/>
<path d="M935,568 L970,558 L975,598 L940,613 Z"/>
</g>
<path d="M715,460 L755,448 L762,490 L722,505 Z" fill="#555" stroke="#888" stroke-width="3"/>
<!-- cables -->
<path d="M735,500 C725,600 680,700 560,790" stroke="#6b6b6b" stroke-width="7" fill="none"/>
<path d="M10,680 C70,790 130,860 260,865 L420,862" stroke="#6b6b6b" stroke-width="7" fill="none"/>
<!-- legs -->
<path d="M385,610 L545,615 L545,720 L525,975 L470,975 L470,760 L452,760 L445,940 L395,940 C390,840 380,720 385,610 Z" fill="#1b2030"/>
<path d="M470,640 L540,640 L525,975 L470,975 Z" fill="#2d2b2e"/>
<!-- shoes -->
<path d="M395,925 L450,925 L462,940 C450,960 410,962 392,948 Z" fill="#3a8ff0"/>
<path d="M470,965 L530,965 C560,965 585,975 588,992 L478,995 Z" fill="#3a8ff0"/>
<path d="M470,985 L588,985 L588,997 L470,997 Z" fill="#ffffff"/>
<!-- torso -->
<path d="M365,385 C380,350 420,345 460,352 L520,380 C545,420 550,520 540,630 L390,630 C375,560 358,460 365,385 Z" fill="#3589dc"/>
<path d="M460,430 C500,430 540,450 548,480 L545,510 L470,500 Z" fill="#2a78c8"/>
<path d="M400,350 L470,372 L465,385 L398,362 Z" fill="#ffffff"/>
<path d="M492,488 L545,462 L550,478 L497,505 Z" fill="#ffffff"/>
<!-- arm -->
<path d="M525,495 C560,515 600,500 640,470 L660,490 C615,535 565,555 520,530 Z" fill="#f6d0b8"/>
<!-- phone -->
<path d="M622,430 L698,405 L712,425 L640,465 Z" fill="#ffffff" stroke="#3470e0" stroke-width="9"/>
<path d="M650,438 L665,448 L690,428" stroke="#3fc06a" stroke-width="9" fill="none"/>
<!-- head -->
<path d="M478,300 L545,300 L560,360 C540,390 500,385 480,360 Z" fill="#f6d0b8"/>
<path d="M545,360 C560,365 570,375 560,392 L540,390 Z" fill="#f6d0b8"/>
<path d="M440,280 C440,250 490,245 520,255 C545,262 560,268 555,285 L530,300 L480,305 L470,330 C450,320 440,300 440,280 Z" fill="#1e2631"/>
</g>

<!-- scene3 AIoT -->
<defs>
<linearGradient id="aiRim" x1="0" y1="0" x2="1" y2="0"><stop offset="0" stop-color="#9ad6fb"/><stop offset="0.5" stop-color="#6fc0f8"/><stop offset="1" stop-color="#a9ddfb"/></linearGradient>
<linearGradient id="aiTop" x1="0" y1="0" x2="1" y2="0.3"><stop offset="0" stop-color="#ffffff"/><stop offset="0.7" stop-color="#ffffff"/><stop offset="1" stop-color="#e6f0ff"/></linearGradient>
<linearGradient id="aiCloudTop" x1="0" y1="0" x2="1" y2="0.4"><stop offset="0" stop-color="#5a98f5"/><stop offset="0.6" stop-color="#6aaaf7"/><stop offset="1" stop-color="#86c6f8"/></linearGradient>
<linearGradient id="aiCloudSide" x1="0" y1="0" x2="1" y2="0"><stop offset="0" stop-color="#8fe6fc"/><stop offset="1" stop-color="#6ec9f8"/></linearGradient>
<linearGradient id="beam" x1="0" y1="0" x2="0" y2="1"><stop offset="0" stop-color="#d6e8fb" stop-opacity="0.1"/><stop offset="0.35" stop-color="#c9e2fb" stop-opacity="0.6"/><stop offset="1" stop-color="#b8e3fb" stop-opacity="0.7"/></linearGradient>
</defs>
<g transform="rotate(-4.4 1221.5 554)">
<ellipse cx="1221.5" cy="562" rx="81.5" ry="47.2" fill="url(#aiRim)"/>
<ellipse cx="1221.5" cy="561" rx="81.5" ry="47.2" fill="url(#aiRim)"/>
<ellipse cx="1221.5" cy="560" rx="81.5" ry="47.2" fill="url(#aiRim)"/>
<ellipse cx="1221.5" cy="559" rx="81.5" ry="47.2" fill="url(#aiRim)"/>
<ellipse cx="1221.5" cy="558" rx="81.5" ry="47.2" fill="url(#aiRim)"/>
<ellipse cx="1221.5" cy="557" rx="81.5" ry="47.2" fill="url(#aiRim)"/>
<ellipse cx="1221.5" cy="556" rx="81.5" ry="47.2" fill="url(#aiRim)"/>
<ellipse cx="1221.5" cy="555" rx="81.5" ry="47.2" fill="url(#aiRim)"/>
<ellipse cx="1221.5" cy="554" rx="81.5" ry="47.2" fill="url(#aiRim)"/>
<ellipse cx="1221.5" cy="555" rx="81.5" ry="47.2" fill="#b5e2fc"/>
<ellipse cx="1221.5" cy="553" rx="81.5" ry="47.2" fill="url(#aiTop)"/>
</g>
<polygon points="1225.2,601.5 1234.9,600.8 1234.9,603 1225.2,603.8" fill="#a4ef9c"/>
<polygon points="1237,600.5 1246,599 1246,601.8 1237,603" fill="#17b2f0"/>
<polygon points="1155,582 1161.4,585 1161.4,588.5 1155,585.8" fill="#19a8ee"/>
<path d="M1247,600 C1265,597 1285,590 1298,580" stroke="#d7efff" stroke-width="0.6" fill="none"/>
<text transform="matrix(0.8794 0.4814 -0.7183 0.2829 1155 555.5)" font-size="6.8" fill="#34446e" font-weight="400">大模型, 物联网, 大数据</text>
<g transform="translate(1135 465) scale(0.13877)">
<path d="M240,470 C235,430 280,400 330,398 C380,396 430,405 470,420 C490,400 540,390 600,390 C680,390 720,410 760,430 C860,440 950,480 962,560 C970,620 950,680 900,720 C860,755 800,765 750,760 C700,758 680,750 660,740 L250,500 C243,492 240,482 240,470 Z" transform="translate(0 100)" fill="url(#aiCloudSide)"/>
<path d="M240,470 C235,430 280,400 330,398 C380,396 430,405 470,420 C490,400 540,390 600,390 C680,390 720,410 760,430 C860,440 950,480 962,560 C970,620 950,680 900,720 C860,755 800,765 750,760 C700,758 680,750 660,740 L250,500 C243,492 240,482 240,470 Z" transform="translate(0 94)" fill="url(#aiCloudSide)"/>
<path d="M240,470 C235,430 280,400 330,398 C380,396 430,405 470,420 C490,400 540,390 600,390 C680,390 720,410 760,430 C860,440 950,480 962,560 C970,620 950,680 900,720 C860,755 800,765 750,760 C700,758 680,750 660,740 L250,500 C243,492 240,482 240,470 Z" transform="translate(0 88)" fill="url(#aiCloudSide)"/>
<path d="M240,470 C235,430 280,400 330,398 C380,396 430,405 470,420 C490,400 540,390 600,390 C680,390 720,410 760,430 C860,440 950,480 962,560 C970,620 950,680 900,720 C860,755 800,765 750,760 C700,758 680,750 660,740 L250,500 C243,492 240,482 240,470 Z" transform="translate(0 82)" fill="url(#aiCloudSide)"/>
<path d="M240,470 C235,430 280,400 330,398 C380,396 430,405 470,420 C490,400 540,390 600,390 C680,390 720,410 760,430 C860,440 950,480 962,560 C970,620 950,680 900,720 C860,755 800,765 750,760 C700,758 680,750 660,740 L250,500 C243,492 240,482 240,470 Z" transform="translate(0 76)" fill="url(#aiCloudSide)"/>
<path d="M240,470 C235,430 280,400 330,398 C380,396 430,405 470,420 C490,400 540,390 600,390 C680,390 720,410 760,430 C860,440 950,480 962,560 C970,620 950,680 900,720 C860,755 800,765 750,760 C700,758 680,750 660,740 L250,500 C243,492 240,482 240,470 Z" transform="translate(0 70)" fill="url(#aiCloudSide)"/>
<path d="M240,470 C235,430 280,400 330,398 C380,396 430,405 470,420 C490,400 540,390 600,390 C680,390 720,410 760,430 C860,440 950,480 962,560 C970,620 950,680 900,720 C860,755 800,765 750,760 C700,758 680,750 660,740 L250,500 C243,492 240,482 240,470 Z" transform="translate(0 64)" fill="url(#aiCloudSide)"/>
<path d="M240,470 C235,430 280,400 330,398 C380,396 430,405 470,420 C490,400 540,390 600,390 C680,390 720,410 760,430 C860,440 950,480 962,560 C970,620 950,680 900,720 C860,755 800,765 750,760 C700,758 680,750 660,740 L250,500 C243,492 240,482 240,470 Z" transform="translate(0 58)" fill="url(#aiCloudSide)"/>
<path d="M240,470 C235,430 280,400 330,398 C380,396 430,405 470,420 C490,400 540,390 600,390 C680,390 720,410 760,430 C860,440 950,480 962,560 C970,620 950,680 900,720 C860,755 800,765 750,760 C700,758 680,750 660,740 L250,500 C243,492 240,482 240,470 Z" transform="translate(0 52)" fill="url(#aiCloudSide)"/>
<path d="M240,470 C235,430 280,400 330,398 C380,396 430,405 470,420 C490,400 540,390 600,390 C680,390 720,410 760,430 C860,440 950,480 962,560 C970,620 950,680 900,720 C860,755 800,765 750,760 C700,758 680,750 660,740 L250,500 C243,492 240,482 240,470 Z" transform="translate(0 46)" fill="url(#aiCloudSide)"/>
<path d="M240,470 C235,430 280,400 330,398 C380,396 430,405 470,420 C490,400 540,390 600,390 C680,390 720,410 760,430 C860,440 950,480 962,560 C970,620 950,680 900,720 C860,755 800,765 750,760 C700,758 680,750 660,740 L250,500 C243,492 240,482 240,470 Z" transform="translate(0 40)" fill="url(#aiCloudSide)"/>
<path d="M240,470 C235,430 280,400 330,398 C380,396 430,405 470,420 C490,400 540,390 600,390 C680,390 720,410 760,430 C860,440 950,480 962,560 C970,620 950,680 900,720 C860,755 800,765 750,760 C700,758 680,750 660,740 L250,500 C243,492 240,482 240,470 Z" transform="translate(0 34)" fill="url(#aiCloudSide)"/>
<path d="M240,470 C235,430 280,400 330,398 C380,396 430,405 470,420 C490,400 540,390 600,390 C680,390 720,410 760,430 C860,440 950,480 962,560 C970,620 950,680 900,720 C860,755 800,765 750,760 C700,758 680,750 660,740 L250,500 C243,492 240,482 240,470 Z" transform="translate(0 28)" fill="url(#aiCloudSide)"/>
<path d="M240,470 C235,430 280,400 330,398 C380,396 430,405 470,420 C490,400 540,390 600,390 C680,390 720,410 760,430 C860,440 950,480 962,560 C970,620 950,680 900,720 C860,755 800,765 750,760 C700,758 680,750 660,740 L250,500 C243,492 240,482 240,470 Z" transform="translate(0 22)" fill="url(#aiCloudSide)"/>
<path d="M240,470 C235,430 280,400 330,398 C380,396 430,405 470,420 C490,400 540,390 600,390 C680,390 720,410 760,430 C860,440 950,480 962,560 C970,620 950,680 900,720 C860,755 800,765 750,760 C700,758 680,750 660,740 L250,500 C243,492 240,482 240,470 Z" transform="translate(0 16)" fill="url(#aiCloudSide)"/>
<path d="M240,470 C235,430 280,400 330,398 C380,396 430,405 470,420 C490,400 540,390 600,390 C680,390 720,410 760,430 C860,440 950,480 962,560 C970,620 950,680 900,720 C860,755 800,765 750,760 C700,758 680,750 660,740 L250,500 C243,492 240,482 240,470 Z" transform="translate(0 10)" fill="url(#aiCloudSide)"/>
<path d="M240,470 C235,430 280,400 330,398 C380,396 430,405 470,420 C490,400 540,390 600,390 C680,390 720,410 760,430 C860,440 950,480 962,560 C970,620 950,680 900,720 C860,755 800,765 750,760 C700,758 680,750 660,740 L250,500 C243,492 240,482 240,470 Z" transform="translate(0 4)" fill="url(#aiCloudSide)"/>
<path d="M240,470 C235,430 280,400 330,398 C380,396 430,405 470,420 C490,400 540,390 600,390 C680,390 720,410 760,430 C860,440 950,480 962,560 C970,620 950,680 900,720 C860,755 800,765 750,760 C700,758 680,750 660,740 L250,500 C243,492 240,482 240,470 Z" fill="url(#aiCloudTop)" stroke="#dcf6ff" stroke-width="10"/>
<polygon points="395,620 455,655 455,690 395,655" fill="#12a6ee"/>
<polygon points="465,660 505,683 505,713 465,690" fill="#c9f59c"/>
<polygon points="510,688 615,748 615,775 510,715" fill="#12a0ec"/>
<path d="M380,595 L380,630 L470,682 L470,720" stroke="#d8f3ff" stroke-width="3" fill="none"/>
<ellipse cx="790" cy="505" rx="128" ry="78" fill="#8fe3fb" opacity="0.9"/><ellipse cx="790" cy="495" rx="95" ry="55" fill="#b8f0fd" opacity="0.8"/>
</g>
<polygon points="1220,471 1271,471 1266,526 1226,526" fill="url(#beam)"/>
<polygon points="1230.8,497.6 1244.6,505.2 1244.6,528.8 1230.8,520.5" fill="#2aa9f2"/>
<polygon points="1244.6,505.2 1258.5,496.2 1258.5,520.5 1244.6,528.8" fill="#1b8edf"/>
<polygon points="1230.8,497.6 1246,489.3 1258.5,496.2 1244.6,505.2" fill="#48b8f5"/>
<path d="M1237.5,496 L1238.5,490.5 C1239,488 1241,487.3 1243,487.2 L1247.5,486.8 C1250,486.8 1251,488.5 1250.8,491 L1250.5,494" stroke="#2aa0ee" stroke-width="2.2" fill="none"/>
<polygon points="1241.5,498.5 1252.5,492.5 1254.5,493.6 1243.5,499.7" fill="#a9b3d6"/>
<circle cx="1247" cy="514.5" r="0.7" fill="#fff"/><circle cx="1235.5" cy="531.5" r="0.6" fill="#fff"/><circle cx="1259.5" cy="528" r="0.6" fill="#fff"/>
<text transform="matrix(0.8794 0.4814 -0.7183 0.2829 1188 532)" font-size="15.5" fill="#fff" stroke="#fff" stroke-width="0.6" font-weight="700">AIoT平台</text>
<!-- scene4 -->
<defs>
<linearGradient id="cabTop2" x1="0" y1="0" x2="1" y2="1"><stop offset="0" stop-color="#8ffcfd"/><stop offset="0.6" stop-color="#6cf0fb"/><stop offset="1" stop-color="#55e6f9"/></linearGradient>
<linearGradient id="cabR2" x1="0" y1="0" x2="1" y2="0"><stop offset="0" stop-color="#3fe6fa"/><stop offset="0.18" stop-color="#78f2fc"/><stop offset="0.5" stop-color="#34e8fa"/><stop offset="1" stop-color="#1fe1f8"/></linearGradient>
<linearGradient id="door2" x1="0" y1="0" x2="0" y2="1"><stop offset="0" stop-color="#3f9ef0"/><stop offset="1" stop-color="#2fb2f4"/></linearGradient>
</defs>
<g transform="matrix(1 -0.5583 0 1 1492.4 386.6)">
<rect x="-2" y="0" width="30.3" height="99" fill="url(#cabR2)"/>
<rect x="27.1" y="0" width="1.2" height="99" fill="#14cfee" opacity="0.6"/>
</g>
<g transform="matrix(1 0.6262 0 1 1450.4 360.3)">
<rect x="0" y="0" width="42.0" height="99" fill="#1ec6f6"/>
<rect x="0" y="0" width="1.6" height="99" fill="#22d9fa"/>
<line x1="5" y1="5.5" x2="11.5" y2="7.5" stroke="#0e9fd8" stroke-width="0.7"/>
<line x1="5" y1="8.1" x2="11.5" y2="10.1" stroke="#0e9fd8" stroke-width="0.7"/>
<line x1="29" y1="5.5" x2="35.5" y2="7.5" stroke="#0e9fd8" stroke-width="0.7"/>
<line x1="29" y1="8.1" x2="35.5" y2="10.1" stroke="#0e9fd8" stroke-width="0.7"/>
<circle cx="19.9" cy="7.2" r="3.1" fill="#0b4f8f"/>
<circle cx="19.9" cy="7.2" r="2.2" fill="#0d5ea3"/>
<rect x="2.6" y="14.5" width="16.6" height="18.6" fill="url(#door2)"/>
<rect x="16.0" y="19.5" width="0.9" height="3.4" fill="#d8f3ff" opacity="0.9"/>
<rect x="2.6" y="35" width="16.6" height="18.6" fill="url(#door2)"/>
<rect x="16.0" y="40.0" width="0.9" height="3.4" fill="#d8f3ff" opacity="0.9"/>
<rect x="2.6" y="55.5" width="16.6" height="18.6" fill="url(#door2)"/>
<rect x="16.0" y="60.5" width="0.9" height="3.4" fill="#d8f3ff" opacity="0.9"/>
<rect x="2.6" y="76" width="16.6" height="18.6" fill="url(#door2)"/>
<rect x="16.0" y="81.0" width="0.9" height="3.4" fill="#d8f3ff" opacity="0.9"/>
<rect x="22.6" y="14.5" width="17.4" height="18.6" fill="url(#door2)"/>
<rect x="36.8" y="19.5" width="0.9" height="3.4" fill="#d8f3ff" opacity="0.9"/>
<rect x="22.6" y="35" width="17.4" height="18.6" fill="url(#door2)"/>
<rect x="36.8" y="40.0" width="0.9" height="3.4" fill="#d8f3ff" opacity="0.9"/>
<rect x="22.6" y="55.5" width="17.4" height="18.6" fill="url(#door2)"/>
<rect x="36.8" y="60.5" width="0.9" height="3.4" fill="#d8f3ff" opacity="0.9"/>
<rect x="22.6" y="76" width="17.4" height="18.6" fill="url(#door2)"/>
<rect x="36.8" y="81.0" width="0.9" height="3.4" fill="#d8f3ff" opacity="0.9"/>
<rect x="2.6" y="96.5" width="37.0" height="0.0" fill="url(#door2)"/>
</g>
<g transform="matrix(1 -0.5583 0 1 1492.4 386.6)"><rect x="-1.5" y="0" width="3" height="99" fill="#2fdcfa" opacity="0.6"/></g>
<polygon points="1450.4,360.3 1478.7,344.5 1520.7,370.8 1492.4,386.6" fill="url(#cabTop2)"/>
<g transform="translate(1381.6 423.1) scale(0.0598)"><use href="#scooter"/></g>
<g transform="translate(1395.4 435.2) scale(0.0598)"><use href="#scooter"/></g>
<g transform="translate(1412.1 448.1) scale(0.0598)"><use href="#scooter"/></g>
<!-- scene4 man -->
<g transform="translate(1375 415) scale(0.09251)">
<polygon points="50,860 150,815 355,905 250,962" fill="#0c1233"/>
<path d="M100,500 L270,505 L268,600 L250,930 L190,930 L185,680 L170,680 L160,880 L110,880 C100,760 95,620 100,500 Z" fill="#1b2030"/>
<path d="M180,520 L268,520 L250,930 L190,930 Z" fill="#2d2b2e"/>
<path d="M110,860 L160,860 L170,880 C150,895 120,895 105,885 Z" fill="#3a8ff0"/>
<path d="M190,915 L250,915 C280,915 305,925 308,940 L195,945 Z" fill="#3a8ff0"/>
<path d="M70,260 C80,225 120,215 160,222 L235,250 C262,300 270,420 268,530 L108,530 C90,450 65,340 70,260 Z" fill="#3589dc"/>
<path d="M130,225 L215,262 L208,275 L125,240 Z" fill="#ffffff"/>
<path d="M215,380 L262,350 L268,365 L220,395 Z" fill="#ffffff"/>
<path d="M240,400 C280,420 330,400 380,360 L400,380 C345,430 290,450 245,430 Z" fill="#f6d0b8"/>
<path d="M238,290 C260,280 290,268 315,270 L312,285 C290,290 265,300 245,310 Z" fill="#f6d0b8"/>
<path d="M350,330 L440,300 L455,320 L370,365 Z" fill="#ffffff" stroke="#3470e0" stroke-width="10"/>
<path d="M385,330 L400,340 L425,322" stroke="#3fc06a" stroke-width="9" fill="none"/>
<path d="M195,175 L260,175 L275,235 C255,262 215,255 200,232 Z" fill="#f6d0b8"/>
<path d="M160,160 C160,125 210,118 245,128 C272,135 290,145 285,165 L258,178 L200,182 L192,210 C172,200 160,182 160,160 Z" fill="#1e2631"/>
</g>

</svg>
</body>
</html>
